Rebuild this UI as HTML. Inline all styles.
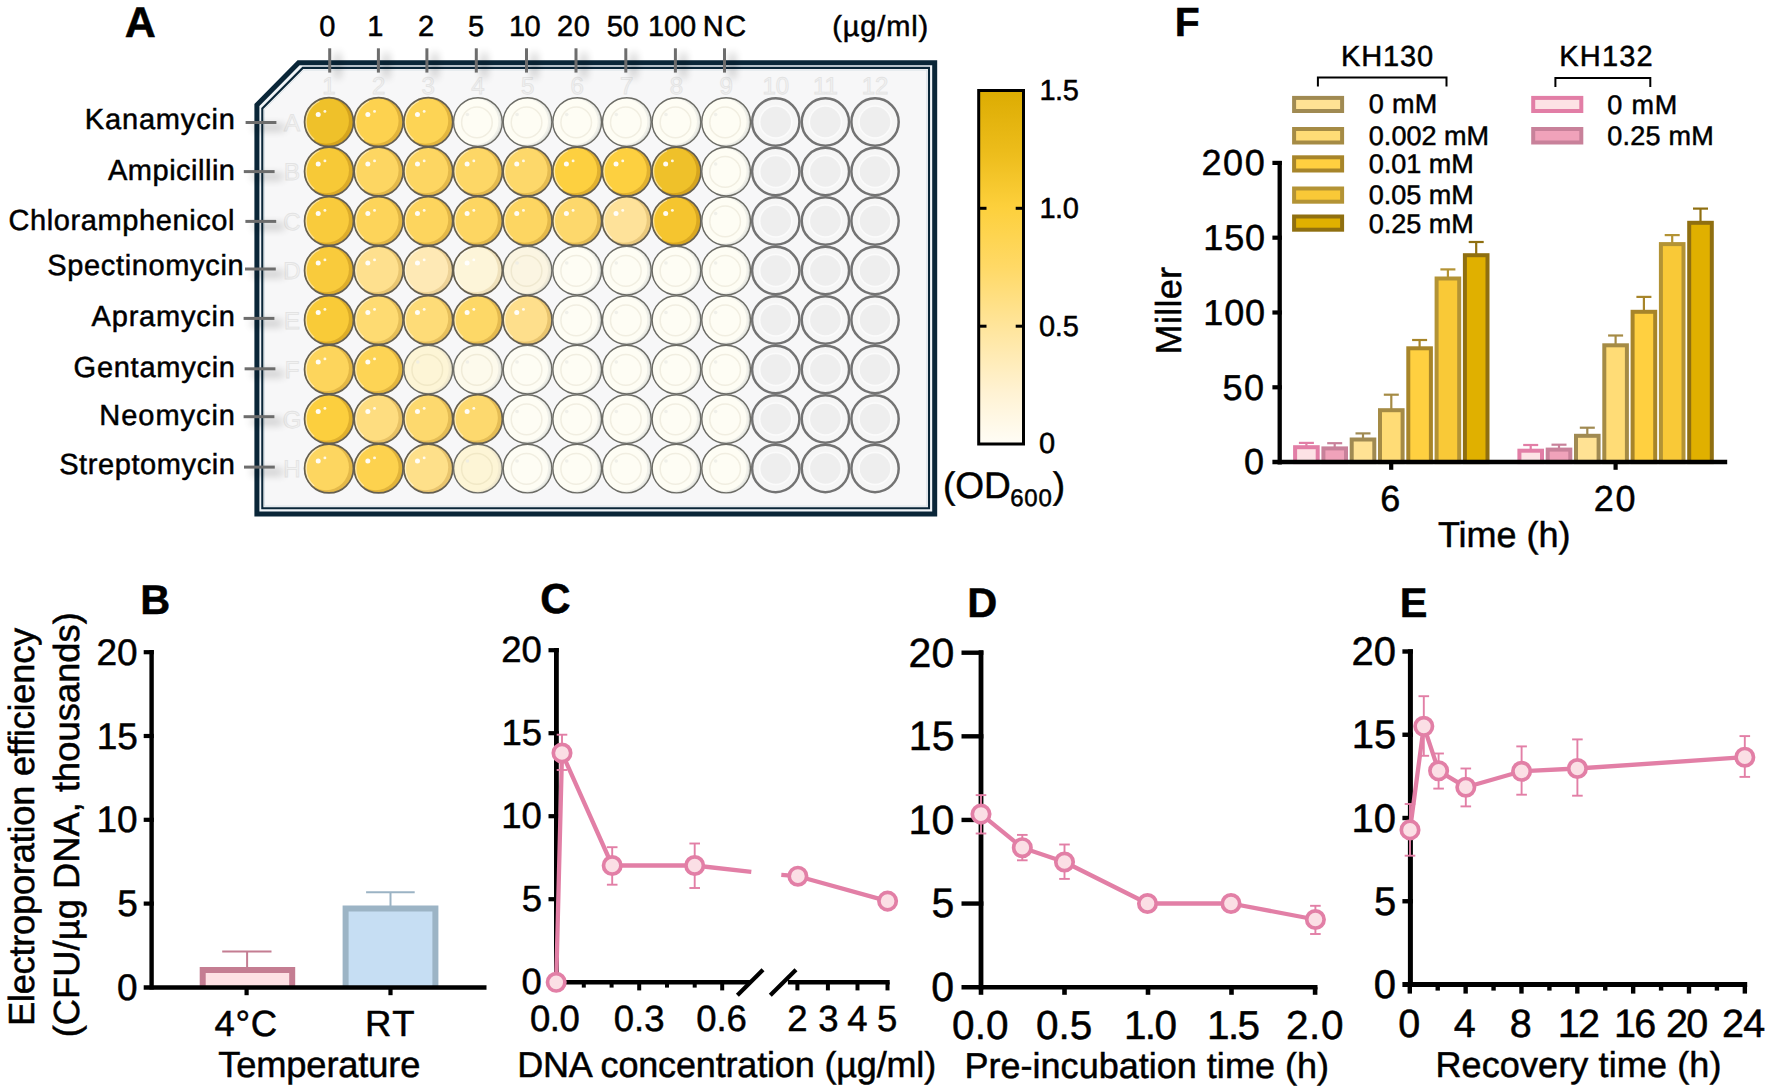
<!DOCTYPE html>
<html lang="en"><head><meta charset="utf-8"><title>Figure</title>
<style>
html,body{margin:0;padding:0;background:#fff;}
body{width:1772px;height:1092px;overflow:hidden;}
svg{display:block;font-family:"Liberation Sans",Arial,Helvetica,sans-serif;}
svg text{font-kerning:normal;text-rendering:geometricPrecision;}
svg text.k{stroke:#000;stroke-width:.5px;}
</style></head><body>
<svg width="1772" height="1092" viewBox="0 0 1772 1092">
<defs>
<filter id="sh" x="-400%" y="-100%" width="900%" height="300%"><feGaussianBlur in="SourceAlpha" stdDeviation="4.2"/><feOffset dx="8" dy="5"/><feComponentTransfer><feFuncA type="linear" slope="0.40"/></feComponentTransfer></filter>
<linearGradient id="cb" x1="0" y1="0" x2="0" y2="1">
<stop offset="0" stop-color="#dcac02"/><stop offset="0.18" stop-color="#edbd1c"/><stop offset="0.33" stop-color="#fdd03c"/><stop offset="0.5" stop-color="#ffd966"/><stop offset="0.67" stop-color="#ffe59c"/><stop offset="0.85" stop-color="#fff2d2"/><stop offset="1" stop-color="#fffdf6"/>
</linearGradient>
<clipPath id="wc"><circle cx="0" cy="0" r="24.25"/></clipPath>
</defs>
<rect width="1772" height="1092" fill="#fff"/>
<text class="k" x="124.80" y="36.60" font-size="43" font-weight="700" fill="#000">A</text>
<text class="k" x="319.30" y="36.30" font-size="29" fill="#000">0</text>
<text class="k" x="367.15" y="36.30" font-size="29" fill="#000">1</text>
<text class="k" x="417.90" y="36.30" font-size="29" fill="#000">2</text>
<text class="k" x="468.05" y="36.30" font-size="29" fill="#000">5</text>
<text class="k" x="508.95" y="36.30" font-size="29" letter-spacing="-0.500" fill="#000">10</text>
<text class="k" x="556.90" y="36.30" font-size="29" letter-spacing="0.750" fill="#000">20</text>
<text class="k" x="606.75" y="36.30" font-size="29" letter-spacing="-0.200" fill="#000">50</text>
<text class="k" x="647.95" y="36.30" font-size="29" letter-spacing="-0.150" fill="#000">100</text>
<text class="k" x="702.65" y="36.30" font-size="29" letter-spacing="1.600" fill="#000">NC</text>
<text class="k" x="832.25" y="36.30" font-size="29" letter-spacing="0.850" fill="#000">(µg/ml)</text>
<text class="k" x="84.75" y="128.90" font-size="29" letter-spacing="0.844" fill="#000">Kanamycin</text>
<text class="k" x="108.00" y="180.20" font-size="29" letter-spacing="0.500" fill="#000">Ampicillin</text>
<text class="k" x="8.50" y="229.60" font-size="29" letter-spacing="0.596" fill="#000">Chloramphenicol</text>
<text class="k" x="47.25" y="275.40" font-size="29" letter-spacing="0.650" fill="#000">Spectinomycin</text>
<text class="k" x="91.60" y="325.70" font-size="29" letter-spacing="0.800" fill="#000">Apramycin</text>
<text class="k" x="73.60" y="377.00" font-size="29" letter-spacing="0.739" fill="#000">Gentamycin</text>
<text class="k" x="99.35" y="424.60" font-size="29" letter-spacing="0.950" fill="#000">Neomycin</text>
<text class="k" x="59.15" y="474.10" font-size="29" letter-spacing="0.600" fill="#000">Streptomycin</text>
<polygon points="256.9,105.0 298.6,62.8 934.7,62.8 934.7,513.9 256.9,513.9" fill="#f1f5f8" stroke="#0a2638" stroke-width="5" stroke-linejoin="miter"/>
<polygon points="262.3,108.4 302.8,67.9 929.0,67.9 929.0,508.3 262.3,508.3" fill="#f7f7f8" stroke="#0a2638" stroke-width="2.1" stroke-linejoin="miter"/>
<polygon points="264.5,109.3 303.7,70.1 926.8,70.1 926.8,506.1 264.5,506.1" fill="none" stroke="#d3dde3" stroke-width="0.8" stroke-linejoin="miter"/>
<text x="329.0" y="94.3" font-size="24" text-anchor="middle" fill="#f2f2f2" stroke="#e3e3e3" stroke-width="0.8">1</text>
<text x="378.6" y="94.3" font-size="24" text-anchor="middle" fill="#f2f2f2" stroke="#e3e3e3" stroke-width="0.8">2</text>
<text x="428.3" y="94.3" font-size="24" text-anchor="middle" fill="#f2f2f2" stroke="#e3e3e3" stroke-width="0.8">3</text>
<text x="477.9" y="94.3" font-size="24" text-anchor="middle" fill="#f2f2f2" stroke="#e3e3e3" stroke-width="0.8">4</text>
<text x="527.6" y="94.3" font-size="24" text-anchor="middle" fill="#f2f2f2" stroke="#e3e3e3" stroke-width="0.8">5</text>
<text x="577.2" y="94.3" font-size="24" text-anchor="middle" fill="#f2f2f2" stroke="#e3e3e3" stroke-width="0.8">6</text>
<text x="626.8" y="94.3" font-size="24" text-anchor="middle" fill="#f2f2f2" stroke="#e3e3e3" stroke-width="0.8">7</text>
<text x="676.5" y="94.3" font-size="24" text-anchor="middle" fill="#f2f2f2" stroke="#e3e3e3" stroke-width="0.8">8</text>
<text x="726.1" y="94.3" font-size="24" text-anchor="middle" fill="#f2f2f2" stroke="#e3e3e3" stroke-width="0.8">9</text>
<text x="775.8" y="94.3" font-size="24" text-anchor="middle" fill="#f2f2f2" stroke="#e3e3e3" stroke-width="0.8">10</text>
<text x="825.4" y="94.3" font-size="24" text-anchor="middle" fill="#f2f2f2" stroke="#e3e3e3" stroke-width="0.8">11</text>
<text x="875.0" y="94.3" font-size="24" text-anchor="middle" fill="#f2f2f2" stroke="#e3e3e3" stroke-width="0.8">12</text>
<text x="292" y="130.6" font-size="24" text-anchor="middle" fill="#f2f2f2" stroke="#e3e3e3" stroke-width="0.8">A</text>
<text x="292" y="180.1" font-size="24" text-anchor="middle" fill="#f2f2f2" stroke="#e3e3e3" stroke-width="0.8">B</text>
<text x="292" y="229.6" font-size="24" text-anchor="middle" fill="#f2f2f2" stroke="#e3e3e3" stroke-width="0.8">C</text>
<text x="292" y="279.1" font-size="24" text-anchor="middle" fill="#f2f2f2" stroke="#e3e3e3" stroke-width="0.8">D</text>
<text x="292" y="328.6" font-size="24" text-anchor="middle" fill="#f2f2f2" stroke="#e3e3e3" stroke-width="0.8">E</text>
<text x="292" y="378.1" font-size="24" text-anchor="middle" fill="#f2f2f2" stroke="#e3e3e3" stroke-width="0.8">F</text>
<text x="292" y="427.6" font-size="24" text-anchor="middle" fill="#f2f2f2" stroke="#e3e3e3" stroke-width="0.8">G</text>
<text x="292" y="477.1" font-size="24" text-anchor="middle" fill="#f2f2f2" stroke="#e3e3e3" stroke-width="0.8">H</text>
<g transform="translate(329.00,122.00)"><circle r="24.45" fill="#d5a41e"/><g clip-path="url(#wc)"><circle cx="-3.0" cy="-1.3" r="22.95" fill="#efc12a"/></g><circle r="23.05" fill="none" stroke="#f7e094" stroke-width="1.6" stroke-dasharray="46 200" stroke-dashoffset="-52"/><circle r="24.45" fill="none" stroke="#655f50" stroke-width="1.7"/><circle cx="-10.8" cy="-7.4" r="2.5" fill="#fff" opacity="0.95"/><circle cx="-4.1" cy="-10.6" r="1.45" fill="#fff" opacity="0.85"/></g>
<g transform="translate(378.64,122.00)"><circle r="24.45" fill="#e2b43b"/><g clip-path="url(#wc)"><circle cx="-3.0" cy="-1.3" r="22.95" fill="#fdd24f"/></g><circle r="23.05" fill="none" stroke="#fee8a7" stroke-width="1.6" stroke-dasharray="46 200" stroke-dashoffset="-52"/><circle r="24.45" fill="none" stroke="#655f50" stroke-width="1.7"/><circle cx="-10.8" cy="-7.4" r="2.5" fill="#fff" opacity="0.95"/><circle cx="-4.1" cy="-10.6" r="1.45" fill="#fff" opacity="0.85"/></g>
<g transform="translate(428.28,122.00)"><circle r="24.45" fill="#e3b63f"/><g clip-path="url(#wc)"><circle cx="-3.0" cy="-1.3" r="22.95" fill="#fdd455"/></g><circle r="23.05" fill="none" stroke="#feeaaa" stroke-width="1.6" stroke-dasharray="46 200" stroke-dashoffset="-52"/><circle r="24.45" fill="none" stroke="#655f50" stroke-width="1.7"/><circle cx="-10.8" cy="-7.4" r="2.5" fill="#fff" opacity="0.95"/><circle cx="-4.1" cy="-10.6" r="1.45" fill="#fff" opacity="0.85"/></g>
<g transform="translate(477.92,122.00)"><circle r="24.45" fill="#dfe1dc"/><g clip-path="url(#wc)"><circle cx="-1.4" cy="-0.3" r="23.85" fill="#f0f0e9"/><circle cx="-2.6" cy="-0.5" r="23.05" fill="#fefdf4"/></g><circle cx="-1" cy="0.4" r="15.3" fill="none" stroke="#f1eee1" stroke-width="1.5"/><circle cx="-10.5" cy="-7.5" r="1.8" fill="#ebebe6" opacity="0.75"/><circle r="24.35" fill="none" stroke="#6c6c66" stroke-width="1.45"/></g>
<g transform="translate(527.56,122.00)"><circle r="24.45" fill="#dfe1dc"/><g clip-path="url(#wc)"><circle cx="-1.4" cy="-0.3" r="23.85" fill="#f0f0e9"/><circle cx="-2.6" cy="-0.5" r="23.05" fill="#fefdf4"/></g><circle cx="-1" cy="0.4" r="15.3" fill="none" stroke="#f1eee1" stroke-width="1.5"/><circle cx="-10.5" cy="-7.5" r="1.8" fill="#ebebe6" opacity="0.75"/><circle r="24.35" fill="none" stroke="#6c6c66" stroke-width="1.45"/></g>
<g transform="translate(577.20,122.00)"><circle r="24.45" fill="#dfe1dc"/><g clip-path="url(#wc)"><circle cx="-1.4" cy="-0.3" r="23.85" fill="#f0f0e9"/><circle cx="-2.6" cy="-0.5" r="23.05" fill="#fefdf4"/></g><circle cx="-1" cy="0.4" r="15.3" fill="none" stroke="#f1eee1" stroke-width="1.5"/><circle cx="-10.5" cy="-7.5" r="1.8" fill="#ebebe6" opacity="0.75"/><circle r="24.35" fill="none" stroke="#6c6c66" stroke-width="1.45"/></g>
<g transform="translate(626.84,122.00)"><circle r="24.45" fill="#dfe1dc"/><g clip-path="url(#wc)"><circle cx="-1.4" cy="-0.3" r="23.85" fill="#f0f0e9"/><circle cx="-2.6" cy="-0.5" r="23.05" fill="#fefdf4"/></g><circle cx="-1" cy="0.4" r="15.3" fill="none" stroke="#f1eee1" stroke-width="1.5"/><circle cx="-10.5" cy="-7.5" r="1.8" fill="#ebebe6" opacity="0.75"/><circle r="24.35" fill="none" stroke="#6c6c66" stroke-width="1.45"/></g>
<g transform="translate(676.48,122.00)"><circle r="24.45" fill="#dfe1dc"/><g clip-path="url(#wc)"><circle cx="-1.4" cy="-0.3" r="23.85" fill="#f0f0e9"/><circle cx="-2.6" cy="-0.5" r="23.05" fill="#fefdf4"/></g><circle cx="-1" cy="0.4" r="15.3" fill="none" stroke="#f1eee1" stroke-width="1.5"/><circle cx="-10.5" cy="-7.5" r="1.8" fill="#ebebe6" opacity="0.75"/><circle r="24.35" fill="none" stroke="#6c6c66" stroke-width="1.45"/></g>
<g transform="translate(726.12,122.00)"><circle r="24.45" fill="#dfe1dc"/><g clip-path="url(#wc)"><circle cx="-1.4" cy="-0.3" r="23.85" fill="#f0f0e9"/><circle cx="-2.6" cy="-0.5" r="23.05" fill="#fefdf4"/></g><circle cx="-1" cy="0.4" r="15.3" fill="none" stroke="#f1eee1" stroke-width="1.5"/><circle cx="-10.5" cy="-7.5" r="1.8" fill="#ebebe6" opacity="0.75"/><circle r="24.35" fill="none" stroke="#6c6c66" stroke-width="1.45"/></g>
<g transform="translate(775.76,122.00)"><circle r="23.65" fill="#f6f6f6" stroke="#737373" stroke-width="2.5"/><circle r="16.8" fill="#fbfbfb"/><circle r="15.3" fill="#eeeeee"/></g>
<g transform="translate(825.40,122.00)"><circle r="23.65" fill="#f6f6f6" stroke="#737373" stroke-width="2.5"/><circle r="16.8" fill="#fbfbfb"/><circle r="15.3" fill="#eeeeee"/></g>
<g transform="translate(875.04,122.00)"><circle r="23.65" fill="#f6f6f6" stroke="#737373" stroke-width="2.5"/><circle r="16.8" fill="#fbfbfb"/><circle r="15.3" fill="#eeeeee"/></g>
<g transform="translate(329.00,171.50)"><circle r="24.45" fill="#dcab28"/><g clip-path="url(#wc)"><circle cx="-3.0" cy="-1.3" r="22.95" fill="#f7c937"/></g><circle r="23.05" fill="none" stroke="#fbe49b" stroke-width="1.6" stroke-dasharray="46 200" stroke-dashoffset="-52"/><circle r="24.45" fill="none" stroke="#655f50" stroke-width="1.7"/><circle cx="-10.8" cy="-7.4" r="2.5" fill="#fff" opacity="0.95"/><circle cx="-4.1" cy="-10.6" r="1.45" fill="#fff" opacity="0.85"/></g>
<g transform="translate(378.64,171.50)"><circle r="24.45" fill="#e4b94a"/><g clip-path="url(#wc)"><circle cx="-3.0" cy="-1.3" r="22.95" fill="#fdd662"/></g><circle r="23.05" fill="none" stroke="#feeab0" stroke-width="1.6" stroke-dasharray="46 200" stroke-dashoffset="-52"/><circle r="24.45" fill="none" stroke="#655f50" stroke-width="1.7"/><circle cx="-10.8" cy="-7.4" r="2.5" fill="#fff" opacity="0.95"/><circle cx="-4.1" cy="-10.6" r="1.45" fill="#fff" opacity="0.85"/></g>
<g transform="translate(428.28,171.50)"><circle r="24.45" fill="#e4b94a"/><g clip-path="url(#wc)"><circle cx="-3.0" cy="-1.3" r="22.95" fill="#fdd662"/></g><circle r="23.05" fill="none" stroke="#feeab0" stroke-width="1.6" stroke-dasharray="46 200" stroke-dashoffset="-52"/><circle r="24.45" fill="none" stroke="#655f50" stroke-width="1.7"/><circle cx="-10.8" cy="-7.4" r="2.5" fill="#fff" opacity="0.95"/><circle cx="-4.1" cy="-10.6" r="1.45" fill="#fff" opacity="0.85"/></g>
<g transform="translate(477.92,171.50)"><circle r="24.45" fill="#e4ba4e"/><g clip-path="url(#wc)"><circle cx="-3.0" cy="-1.3" r="22.95" fill="#fdd766"/></g><circle r="23.05" fill="none" stroke="#feebb2" stroke-width="1.6" stroke-dasharray="46 200" stroke-dashoffset="-52"/><circle r="24.45" fill="none" stroke="#655f50" stroke-width="1.7"/><circle cx="-10.8" cy="-7.4" r="2.5" fill="#fff" opacity="0.95"/><circle cx="-4.1" cy="-10.6" r="1.45" fill="#fff" opacity="0.85"/></g>
<g transform="translate(527.56,171.50)"><circle r="24.45" fill="#e5bc51"/><g clip-path="url(#wc)"><circle cx="-3.0" cy="-1.3" r="22.95" fill="#fdd86a"/></g><circle r="23.05" fill="none" stroke="#feecb4" stroke-width="1.6" stroke-dasharray="46 200" stroke-dashoffset="-52"/><circle r="24.45" fill="none" stroke="#655f50" stroke-width="1.7"/><circle cx="-10.8" cy="-7.4" r="2.5" fill="#fff" opacity="0.95"/><circle cx="-4.1" cy="-10.6" r="1.45" fill="#fff" opacity="0.85"/></g>
<g transform="translate(577.20,171.50)"><circle r="24.45" fill="#e1b12f"/><g clip-path="url(#wc)"><circle cx="-3.0" cy="-1.3" r="22.95" fill="#fdd040"/></g><circle r="23.05" fill="none" stroke="#fee8a0" stroke-width="1.6" stroke-dasharray="46 200" stroke-dashoffset="-52"/><circle r="24.45" fill="none" stroke="#655f50" stroke-width="1.7"/><circle cx="-10.8" cy="-7.4" r="2.5" fill="#fff" opacity="0.95"/><circle cx="-4.1" cy="-10.6" r="1.45" fill="#fff" opacity="0.85"/></g>
<g transform="translate(626.84,171.50)"><circle r="24.45" fill="#e1b12f"/><g clip-path="url(#wc)"><circle cx="-3.0" cy="-1.3" r="22.95" fill="#fdd040"/></g><circle r="23.05" fill="none" stroke="#fee8a0" stroke-width="1.6" stroke-dasharray="46 200" stroke-dashoffset="-52"/><circle r="24.45" fill="none" stroke="#655f50" stroke-width="1.7"/><circle cx="-10.8" cy="-7.4" r="2.5" fill="#fff" opacity="0.95"/><circle cx="-4.1" cy="-10.6" r="1.45" fill="#fff" opacity="0.85"/></g>
<g transform="translate(676.48,171.50)"><circle r="24.45" fill="#d5a41e"/><g clip-path="url(#wc)"><circle cx="-3.0" cy="-1.3" r="22.95" fill="#efc12a"/></g><circle r="23.05" fill="none" stroke="#f7e094" stroke-width="1.6" stroke-dasharray="46 200" stroke-dashoffset="-52"/><circle r="24.45" fill="none" stroke="#655f50" stroke-width="1.7"/><circle cx="-10.8" cy="-7.4" r="2.5" fill="#fff" opacity="0.95"/><circle cx="-4.1" cy="-10.6" r="1.45" fill="#fff" opacity="0.85"/></g>
<g transform="translate(726.12,171.50)"><circle r="24.45" fill="#dfe1dc"/><g clip-path="url(#wc)"><circle cx="-1.4" cy="-0.3" r="23.85" fill="#f0f0e9"/><circle cx="-2.6" cy="-0.5" r="23.05" fill="#fefdf4"/></g><circle cx="-1" cy="0.4" r="15.3" fill="none" stroke="#f1eee1" stroke-width="1.5"/><circle cx="-10.5" cy="-7.5" r="1.8" fill="#ebebe6" opacity="0.75"/><circle r="24.35" fill="none" stroke="#6c6c66" stroke-width="1.45"/></g>
<g transform="translate(775.76,171.50)"><circle r="23.65" fill="#f6f6f6" stroke="#737373" stroke-width="2.5"/><circle r="16.8" fill="#fbfbfb"/><circle r="15.3" fill="#eeeeee"/></g>
<g transform="translate(825.40,171.50)"><circle r="23.65" fill="#f6f6f6" stroke="#737373" stroke-width="2.5"/><circle r="16.8" fill="#fbfbfb"/><circle r="15.3" fill="#eeeeee"/></g>
<g transform="translate(875.04,171.50)"><circle r="23.65" fill="#f6f6f6" stroke="#737373" stroke-width="2.5"/><circle r="16.8" fill="#fbfbfb"/><circle r="15.3" fill="#eeeeee"/></g>
<g transform="translate(329.00,221.00)"><circle r="24.45" fill="#dead2b"/><g clip-path="url(#wc)"><circle cx="-3.0" cy="-1.3" r="22.95" fill="#f9cb3c"/></g><circle r="23.05" fill="none" stroke="#fce59e" stroke-width="1.6" stroke-dasharray="46 200" stroke-dashoffset="-52"/><circle r="24.45" fill="none" stroke="#655f50" stroke-width="1.7"/><circle cx="-10.8" cy="-7.4" r="2.5" fill="#fff" opacity="0.95"/><circle cx="-4.1" cy="-10.6" r="1.45" fill="#fff" opacity="0.85"/></g>
<g transform="translate(378.64,221.00)"><circle r="24.45" fill="#e3b744"/><g clip-path="url(#wc)"><circle cx="-3.0" cy="-1.3" r="22.95" fill="#fdd45a"/></g><circle r="23.05" fill="none" stroke="#feeaac" stroke-width="1.6" stroke-dasharray="46 200" stroke-dashoffset="-52"/><circle r="24.45" fill="none" stroke="#655f50" stroke-width="1.7"/><circle cx="-10.8" cy="-7.4" r="2.5" fill="#fff" opacity="0.95"/><circle cx="-4.1" cy="-10.6" r="1.45" fill="#fff" opacity="0.85"/></g>
<g transform="translate(428.28,221.00)"><circle r="24.45" fill="#e4b847"/><g clip-path="url(#wc)"><circle cx="-3.0" cy="-1.3" r="22.95" fill="#fdd55e"/></g><circle r="23.05" fill="none" stroke="#feeaae" stroke-width="1.6" stroke-dasharray="46 200" stroke-dashoffset="-52"/><circle r="24.45" fill="none" stroke="#655f50" stroke-width="1.7"/><circle cx="-10.8" cy="-7.4" r="2.5" fill="#fff" opacity="0.95"/><circle cx="-4.1" cy="-10.6" r="1.45" fill="#fff" opacity="0.85"/></g>
<g transform="translate(477.92,221.00)"><circle r="24.45" fill="#e4b94a"/><g clip-path="url(#wc)"><circle cx="-3.0" cy="-1.3" r="22.95" fill="#fdd662"/></g><circle r="23.05" fill="none" stroke="#feeab0" stroke-width="1.6" stroke-dasharray="46 200" stroke-dashoffset="-52"/><circle r="24.45" fill="none" stroke="#655f50" stroke-width="1.7"/><circle cx="-10.8" cy="-7.4" r="2.5" fill="#fff" opacity="0.95"/><circle cx="-4.1" cy="-10.6" r="1.45" fill="#fff" opacity="0.85"/></g>
<g transform="translate(527.56,221.00)"><circle r="24.45" fill="#e4b94a"/><g clip-path="url(#wc)"><circle cx="-3.0" cy="-1.3" r="22.95" fill="#fdd662"/></g><circle r="23.05" fill="none" stroke="#feeab0" stroke-width="1.6" stroke-dasharray="46 200" stroke-dashoffset="-52"/><circle r="24.45" fill="none" stroke="#655f50" stroke-width="1.7"/><circle cx="-10.8" cy="-7.4" r="2.5" fill="#fff" opacity="0.95"/><circle cx="-4.1" cy="-10.6" r="1.45" fill="#fff" opacity="0.85"/></g>
<g transform="translate(577.20,221.00)"><circle r="24.45" fill="#e5bc53"/><g clip-path="url(#wc)"><circle cx="-3.0" cy="-1.3" r="22.95" fill="#fdd86c"/></g><circle r="23.05" fill="none" stroke="#feecb6" stroke-width="1.6" stroke-dasharray="46 200" stroke-dashoffset="-52"/><circle r="24.45" fill="none" stroke="#655f50" stroke-width="1.7"/><circle cx="-10.8" cy="-7.4" r="2.5" fill="#fff" opacity="0.95"/><circle cx="-4.1" cy="-10.6" r="1.45" fill="#fff" opacity="0.85"/></g>
<g transform="translate(626.84,221.00)"><circle r="24.45" fill="#eac97d"/><g clip-path="url(#wc)"><circle cx="-3.0" cy="-1.3" r="22.95" fill="#fee29a"/></g><circle r="23.05" fill="none" stroke="#fef0cc" stroke-width="1.6" stroke-dasharray="46 200" stroke-dashoffset="-52"/><circle r="24.45" fill="none" stroke="#655f50" stroke-width="1.7"/><circle cx="-10.8" cy="-7.4" r="2.5" fill="#fff" opacity="0.95"/><circle cx="-4.1" cy="-10.6" r="1.45" fill="#fff" opacity="0.85"/></g>
<g transform="translate(676.48,221.00)"><circle r="24.45" fill="#daa821"/><g clip-path="url(#wc)"><circle cx="-3.0" cy="-1.3" r="22.95" fill="#f5c52f"/></g><circle r="23.05" fill="none" stroke="#fae297" stroke-width="1.6" stroke-dasharray="46 200" stroke-dashoffset="-52"/><circle r="24.45" fill="none" stroke="#655f50" stroke-width="1.7"/><circle cx="-10.8" cy="-7.4" r="2.5" fill="#fff" opacity="0.95"/><circle cx="-4.1" cy="-10.6" r="1.45" fill="#fff" opacity="0.85"/></g>
<g transform="translate(726.12,221.00)"><circle r="24.45" fill="#dfe1dc"/><g clip-path="url(#wc)"><circle cx="-1.4" cy="-0.3" r="23.85" fill="#f0f0e9"/><circle cx="-2.6" cy="-0.5" r="23.05" fill="#fefdf4"/></g><circle cx="-1" cy="0.4" r="15.3" fill="none" stroke="#f1eee1" stroke-width="1.5"/><circle cx="-10.5" cy="-7.5" r="1.8" fill="#ebebe6" opacity="0.75"/><circle r="24.35" fill="none" stroke="#6c6c66" stroke-width="1.45"/></g>
<g transform="translate(775.76,221.00)"><circle r="23.65" fill="#f6f6f6" stroke="#737373" stroke-width="2.5"/><circle r="16.8" fill="#fbfbfb"/><circle r="15.3" fill="#eeeeee"/></g>
<g transform="translate(825.40,221.00)"><circle r="23.65" fill="#f6f6f6" stroke="#737373" stroke-width="2.5"/><circle r="16.8" fill="#fbfbfb"/><circle r="15.3" fill="#eeeeee"/></g>
<g transform="translate(875.04,221.00)"><circle r="23.65" fill="#f6f6f6" stroke="#737373" stroke-width="2.5"/><circle r="16.8" fill="#fbfbfb"/><circle r="15.3" fill="#eeeeee"/></g>
<g transform="translate(329.00,270.50)"><circle r="24.45" fill="#dead2b"/><g clip-path="url(#wc)"><circle cx="-3.0" cy="-1.3" r="22.95" fill="#f9cb3c"/></g><circle r="23.05" fill="none" stroke="#fce59e" stroke-width="1.6" stroke-dasharray="46 200" stroke-dashoffset="-52"/><circle r="24.45" fill="none" stroke="#655f50" stroke-width="1.7"/><circle cx="-10.8" cy="-7.4" r="2.5" fill="#fff" opacity="0.95"/><circle cx="-4.1" cy="-10.6" r="1.45" fill="#fff" opacity="0.85"/></g>
<g transform="translate(378.64,270.50)"><circle r="24.45" fill="#e9c671"/><g clip-path="url(#wc)"><circle cx="-3.0" cy="-1.3" r="22.95" fill="#fee08e"/></g><circle r="23.05" fill="none" stroke="#fef0c6" stroke-width="1.6" stroke-dasharray="46 200" stroke-dashoffset="-52"/><circle r="24.45" fill="none" stroke="#655f50" stroke-width="1.7"/><circle cx="-10.8" cy="-7.4" r="2.5" fill="#fff" opacity="0.95"/><circle cx="-4.1" cy="-10.6" r="1.45" fill="#fff" opacity="0.85"/></g>
<g transform="translate(428.28,270.50)"><circle r="24.45" fill="#edd297"/><g clip-path="url(#wc)"><circle cx="-3.0" cy="-1.3" r="22.95" fill="#fee9b5"/></g><circle r="23.05" fill="none" stroke="#fef4da" stroke-width="1.6" stroke-dasharray="46 200" stroke-dashoffset="-52"/><circle r="24.45" fill="none" stroke="#655f50" stroke-width="1.7"/><circle cx="-10.8" cy="-7.4" r="2.5" fill="#fff" opacity="0.95"/><circle cx="-4.1" cy="-10.6" r="1.45" fill="#fff" opacity="0.85"/></g>
<g transform="translate(477.92,270.50)"><circle r="24.45" fill="#efe1bc"/><g clip-path="url(#wc)"><circle cx="-3.0" cy="-1.3" r="22.95" fill="#fdf5d9"/></g><circle r="23.05" fill="none" stroke="#fefaec" stroke-width="1.6" stroke-dasharray="46 200" stroke-dashoffset="-52"/><circle r="24.45" fill="none" stroke="#655f50" stroke-width="1.7"/><circle cx="-10.8" cy="-7.4" r="2.5" fill="#fff" opacity="0.95"/><circle cx="-4.1" cy="-10.6" r="1.45" fill="#fff" opacity="0.85"/></g>
<g transform="translate(527.56,270.50)"><circle r="24.45" fill="#e2dfcf"/><g clip-path="url(#wc)"><circle cx="-1.4" cy="-0.3" r="23.85" fill="#f0ebd9"/><circle cx="-2.6" cy="-0.5" r="23.05" fill="#fbf5e2"/></g><circle cx="-1" cy="0.4" r="15.3" fill="none" stroke="#efe8d0" stroke-width="1.5"/><circle cx="-10.5" cy="-7.5" r="1.8" fill="#ebebe6" opacity="0.75"/><circle r="24.35" fill="none" stroke="#6c6c66" stroke-width="1.45"/></g>
<g transform="translate(577.20,270.50)"><circle r="24.45" fill="#dfe1dc"/><g clip-path="url(#wc)"><circle cx="-1.4" cy="-0.3" r="23.85" fill="#f0f0e9"/><circle cx="-2.6" cy="-0.5" r="23.05" fill="#fefdf4"/></g><circle cx="-1" cy="0.4" r="15.3" fill="none" stroke="#f1eee1" stroke-width="1.5"/><circle cx="-10.5" cy="-7.5" r="1.8" fill="#ebebe6" opacity="0.75"/><circle r="24.35" fill="none" stroke="#6c6c66" stroke-width="1.45"/></g>
<g transform="translate(626.84,270.50)"><circle r="24.45" fill="#dfe1dc"/><g clip-path="url(#wc)"><circle cx="-1.4" cy="-0.3" r="23.85" fill="#f0f0e9"/><circle cx="-2.6" cy="-0.5" r="23.05" fill="#fefdf4"/></g><circle cx="-1" cy="0.4" r="15.3" fill="none" stroke="#f1eee1" stroke-width="1.5"/><circle cx="-10.5" cy="-7.5" r="1.8" fill="#ebebe6" opacity="0.75"/><circle r="24.35" fill="none" stroke="#6c6c66" stroke-width="1.45"/></g>
<g transform="translate(676.48,270.50)"><circle r="24.45" fill="#dfe1dc"/><g clip-path="url(#wc)"><circle cx="-1.4" cy="-0.3" r="23.85" fill="#f0f0e9"/><circle cx="-2.6" cy="-0.5" r="23.05" fill="#fefdf4"/></g><circle cx="-1" cy="0.4" r="15.3" fill="none" stroke="#f1eee1" stroke-width="1.5"/><circle cx="-10.5" cy="-7.5" r="1.8" fill="#ebebe6" opacity="0.75"/><circle r="24.35" fill="none" stroke="#6c6c66" stroke-width="1.45"/></g>
<g transform="translate(726.12,270.50)"><circle r="24.45" fill="#dfe1dc"/><g clip-path="url(#wc)"><circle cx="-1.4" cy="-0.3" r="23.85" fill="#f0f0e9"/><circle cx="-2.6" cy="-0.5" r="23.05" fill="#fefdf4"/></g><circle cx="-1" cy="0.4" r="15.3" fill="none" stroke="#f1eee1" stroke-width="1.5"/><circle cx="-10.5" cy="-7.5" r="1.8" fill="#ebebe6" opacity="0.75"/><circle r="24.35" fill="none" stroke="#6c6c66" stroke-width="1.45"/></g>
<g transform="translate(775.76,270.50)"><circle r="23.65" fill="#f6f6f6" stroke="#737373" stroke-width="2.5"/><circle r="16.8" fill="#fbfbfb"/><circle r="15.3" fill="#eeeeee"/></g>
<g transform="translate(825.40,270.50)"><circle r="23.65" fill="#f6f6f6" stroke="#737373" stroke-width="2.5"/><circle r="16.8" fill="#fbfbfb"/><circle r="15.3" fill="#eeeeee"/></g>
<g transform="translate(875.04,270.50)"><circle r="23.65" fill="#f6f6f6" stroke="#737373" stroke-width="2.5"/><circle r="16.8" fill="#fbfbfb"/><circle r="15.3" fill="#eeeeee"/></g>
<g transform="translate(329.00,320.00)"><circle r="24.45" fill="#ddad28"/><g clip-path="url(#wc)"><circle cx="-3.0" cy="-1.3" r="22.95" fill="#f9cb38"/></g><circle r="23.05" fill="none" stroke="#fce59c" stroke-width="1.6" stroke-dasharray="46 200" stroke-dashoffset="-52"/><circle r="24.45" fill="none" stroke="#655f50" stroke-width="1.7"/><circle cx="-10.8" cy="-7.4" r="2.5" fill="#fff" opacity="0.95"/><circle cx="-4.1" cy="-10.6" r="1.45" fill="#fff" opacity="0.85"/></g>
<g transform="translate(378.64,320.00)"><circle r="24.45" fill="#e6bf58"/><g clip-path="url(#wc)"><circle cx="-3.0" cy="-1.3" r="22.95" fill="#fedb72"/></g><circle r="23.05" fill="none" stroke="#feedb8" stroke-width="1.6" stroke-dasharray="46 200" stroke-dashoffset="-52"/><circle r="24.45" fill="none" stroke="#655f50" stroke-width="1.7"/><circle cx="-10.8" cy="-7.4" r="2.5" fill="#fff" opacity="0.95"/><circle cx="-4.1" cy="-10.6" r="1.45" fill="#fff" opacity="0.85"/></g>
<g transform="translate(428.28,320.00)"><circle r="24.45" fill="#e7c05d"/><g clip-path="url(#wc)"><circle cx="-3.0" cy="-1.3" r="22.95" fill="#fedc78"/></g><circle r="23.05" fill="none" stroke="#feeebc" stroke-width="1.6" stroke-dasharray="46 200" stroke-dashoffset="-52"/><circle r="24.45" fill="none" stroke="#655f50" stroke-width="1.7"/><circle cx="-10.8" cy="-7.4" r="2.5" fill="#fff" opacity="0.95"/><circle cx="-4.1" cy="-10.6" r="1.45" fill="#fff" opacity="0.85"/></g>
<g transform="translate(477.92,320.00)"><circle r="24.45" fill="#e5bb4f"/><g clip-path="url(#wc)"><circle cx="-3.0" cy="-1.3" r="22.95" fill="#fdd867"/></g><circle r="23.05" fill="none" stroke="#feecb3" stroke-width="1.6" stroke-dasharray="46 200" stroke-dashoffset="-52"/><circle r="24.45" fill="none" stroke="#655f50" stroke-width="1.7"/><circle cx="-10.8" cy="-7.4" r="2.5" fill="#fff" opacity="0.95"/><circle cx="-4.1" cy="-10.6" r="1.45" fill="#fff" opacity="0.85"/></g>
<g transform="translate(527.56,320.00)"><circle r="24.45" fill="#e9c56f"/><g clip-path="url(#wc)"><circle cx="-3.0" cy="-1.3" r="22.95" fill="#fedf8c"/></g><circle r="23.05" fill="none" stroke="#feefc6" stroke-width="1.6" stroke-dasharray="46 200" stroke-dashoffset="-52"/><circle r="24.45" fill="none" stroke="#655f50" stroke-width="1.7"/><circle cx="-10.8" cy="-7.4" r="2.5" fill="#fff" opacity="0.95"/><circle cx="-4.1" cy="-10.6" r="1.45" fill="#fff" opacity="0.85"/></g>
<g transform="translate(577.20,320.00)"><circle r="24.45" fill="#dfe1dc"/><g clip-path="url(#wc)"><circle cx="-1.4" cy="-0.3" r="23.85" fill="#f0f0e9"/><circle cx="-2.6" cy="-0.5" r="23.05" fill="#fefdf4"/></g><circle cx="-1" cy="0.4" r="15.3" fill="none" stroke="#f1eee1" stroke-width="1.5"/><circle cx="-10.5" cy="-7.5" r="1.8" fill="#ebebe6" opacity="0.75"/><circle r="24.35" fill="none" stroke="#6c6c66" stroke-width="1.45"/></g>
<g transform="translate(626.84,320.00)"><circle r="24.45" fill="#dfe1dc"/><g clip-path="url(#wc)"><circle cx="-1.4" cy="-0.3" r="23.85" fill="#f0f0e9"/><circle cx="-2.6" cy="-0.5" r="23.05" fill="#fefdf4"/></g><circle cx="-1" cy="0.4" r="15.3" fill="none" stroke="#f1eee1" stroke-width="1.5"/><circle cx="-10.5" cy="-7.5" r="1.8" fill="#ebebe6" opacity="0.75"/><circle r="24.35" fill="none" stroke="#6c6c66" stroke-width="1.45"/></g>
<g transform="translate(676.48,320.00)"><circle r="24.45" fill="#dfe1dc"/><g clip-path="url(#wc)"><circle cx="-1.4" cy="-0.3" r="23.85" fill="#f0f0e9"/><circle cx="-2.6" cy="-0.5" r="23.05" fill="#fefdf4"/></g><circle cx="-1" cy="0.4" r="15.3" fill="none" stroke="#f1eee1" stroke-width="1.5"/><circle cx="-10.5" cy="-7.5" r="1.8" fill="#ebebe6" opacity="0.75"/><circle r="24.35" fill="none" stroke="#6c6c66" stroke-width="1.45"/></g>
<g transform="translate(726.12,320.00)"><circle r="24.45" fill="#dfe1dc"/><g clip-path="url(#wc)"><circle cx="-1.4" cy="-0.3" r="23.85" fill="#f0f0e9"/><circle cx="-2.6" cy="-0.5" r="23.05" fill="#fefdf4"/></g><circle cx="-1" cy="0.4" r="15.3" fill="none" stroke="#f1eee1" stroke-width="1.5"/><circle cx="-10.5" cy="-7.5" r="1.8" fill="#ebebe6" opacity="0.75"/><circle r="24.35" fill="none" stroke="#6c6c66" stroke-width="1.45"/></g>
<g transform="translate(775.76,320.00)"><circle r="23.65" fill="#f6f6f6" stroke="#737373" stroke-width="2.5"/><circle r="16.8" fill="#fbfbfb"/><circle r="15.3" fill="#eeeeee"/></g>
<g transform="translate(825.40,320.00)"><circle r="23.65" fill="#f6f6f6" stroke="#737373" stroke-width="2.5"/><circle r="16.8" fill="#fbfbfb"/><circle r="15.3" fill="#eeeeee"/></g>
<g transform="translate(875.04,320.00)"><circle r="23.65" fill="#f6f6f6" stroke="#737373" stroke-width="2.5"/><circle r="16.8" fill="#fbfbfb"/><circle r="15.3" fill="#eeeeee"/></g>
<g transform="translate(329.00,369.50)"><circle r="24.45" fill="#e4b845"/><g clip-path="url(#wc)"><circle cx="-3.0" cy="-1.3" r="22.95" fill="#fdd55c"/></g><circle r="23.05" fill="none" stroke="#feeaae" stroke-width="1.6" stroke-dasharray="46 200" stroke-dashoffset="-52"/><circle r="24.45" fill="none" stroke="#655f50" stroke-width="1.7"/><circle cx="-10.8" cy="-7.4" r="2.5" fill="#fff" opacity="0.95"/><circle cx="-4.1" cy="-10.6" r="1.45" fill="#fff" opacity="0.85"/></g>
<g transform="translate(378.64,369.50)"><circle r="24.45" fill="#e3b63f"/><g clip-path="url(#wc)"><circle cx="-3.0" cy="-1.3" r="22.95" fill="#fdd455"/></g><circle r="23.05" fill="none" stroke="#feeaaa" stroke-width="1.6" stroke-dasharray="46 200" stroke-dashoffset="-52"/><circle r="24.45" fill="none" stroke="#655f50" stroke-width="1.7"/><circle cx="-10.8" cy="-7.4" r="2.5" fill="#fff" opacity="0.95"/><circle cx="-4.1" cy="-10.6" r="1.45" fill="#fff" opacity="0.85"/></g>
<g transform="translate(428.28,369.50)"><circle r="24.45" fill="#e9e2c8"/><g clip-path="url(#wc)"><circle cx="-1.4" cy="-0.3" r="23.85" fill="#f4ecd0"/><circle cx="-2.6" cy="-0.5" r="23.05" fill="#fdf5d6"/></g><circle cx="-1" cy="0.4" r="15.3" fill="none" stroke="#f1e8c6" stroke-width="1.5"/><circle cx="-10.5" cy="-7.5" r="1.8" fill="#ebebe6" opacity="0.75"/><circle r="24.35" fill="none" stroke="#6c6c66" stroke-width="1.45"/></g>
<g transform="translate(477.92,369.50)"><circle r="24.45" fill="#dfe0d8"/><g clip-path="url(#wc)"><circle cx="-1.4" cy="-0.3" r="23.85" fill="#f0eee3"/><circle cx="-2.6" cy="-0.5" r="23.05" fill="#fdfaec"/></g><circle cx="-1" cy="0.4" r="15.3" fill="none" stroke="#f0ebd8" stroke-width="1.5"/><circle cx="-10.5" cy="-7.5" r="1.8" fill="#ebebe6" opacity="0.75"/><circle r="24.35" fill="none" stroke="#6c6c66" stroke-width="1.45"/></g>
<g transform="translate(527.56,369.50)"><circle r="24.45" fill="#dfe1dc"/><g clip-path="url(#wc)"><circle cx="-1.4" cy="-0.3" r="23.85" fill="#f0f0e9"/><circle cx="-2.6" cy="-0.5" r="23.05" fill="#fefdf4"/></g><circle cx="-1" cy="0.4" r="15.3" fill="none" stroke="#f1eee1" stroke-width="1.5"/><circle cx="-10.5" cy="-7.5" r="1.8" fill="#ebebe6" opacity="0.75"/><circle r="24.35" fill="none" stroke="#6c6c66" stroke-width="1.45"/></g>
<g transform="translate(577.20,369.50)"><circle r="24.45" fill="#dfe1dc"/><g clip-path="url(#wc)"><circle cx="-1.4" cy="-0.3" r="23.85" fill="#f0f0e9"/><circle cx="-2.6" cy="-0.5" r="23.05" fill="#fefdf4"/></g><circle cx="-1" cy="0.4" r="15.3" fill="none" stroke="#f1eee1" stroke-width="1.5"/><circle cx="-10.5" cy="-7.5" r="1.8" fill="#ebebe6" opacity="0.75"/><circle r="24.35" fill="none" stroke="#6c6c66" stroke-width="1.45"/></g>
<g transform="translate(626.84,369.50)"><circle r="24.45" fill="#dfe1dc"/><g clip-path="url(#wc)"><circle cx="-1.4" cy="-0.3" r="23.85" fill="#f0f0e9"/><circle cx="-2.6" cy="-0.5" r="23.05" fill="#fefdf4"/></g><circle cx="-1" cy="0.4" r="15.3" fill="none" stroke="#f1eee1" stroke-width="1.5"/><circle cx="-10.5" cy="-7.5" r="1.8" fill="#ebebe6" opacity="0.75"/><circle r="24.35" fill="none" stroke="#6c6c66" stroke-width="1.45"/></g>
<g transform="translate(676.48,369.50)"><circle r="24.45" fill="#dfe1dc"/><g clip-path="url(#wc)"><circle cx="-1.4" cy="-0.3" r="23.85" fill="#f0f0e9"/><circle cx="-2.6" cy="-0.5" r="23.05" fill="#fefdf4"/></g><circle cx="-1" cy="0.4" r="15.3" fill="none" stroke="#f1eee1" stroke-width="1.5"/><circle cx="-10.5" cy="-7.5" r="1.8" fill="#ebebe6" opacity="0.75"/><circle r="24.35" fill="none" stroke="#6c6c66" stroke-width="1.45"/></g>
<g transform="translate(726.12,369.50)"><circle r="24.45" fill="#dfe1dc"/><g clip-path="url(#wc)"><circle cx="-1.4" cy="-0.3" r="23.85" fill="#f0f0e9"/><circle cx="-2.6" cy="-0.5" r="23.05" fill="#fefdf4"/></g><circle cx="-1" cy="0.4" r="15.3" fill="none" stroke="#f1eee1" stroke-width="1.5"/><circle cx="-10.5" cy="-7.5" r="1.8" fill="#ebebe6" opacity="0.75"/><circle r="24.35" fill="none" stroke="#6c6c66" stroke-width="1.45"/></g>
<g transform="translate(775.76,369.50)"><circle r="23.65" fill="#f6f6f6" stroke="#737373" stroke-width="2.5"/><circle r="16.8" fill="#fbfbfb"/><circle r="15.3" fill="#eeeeee"/></g>
<g transform="translate(825.40,369.50)"><circle r="23.65" fill="#f6f6f6" stroke="#737373" stroke-width="2.5"/><circle r="16.8" fill="#fbfbfb"/><circle r="15.3" fill="#eeeeee"/></g>
<g transform="translate(875.04,369.50)"><circle r="23.65" fill="#f6f6f6" stroke="#737373" stroke-width="2.5"/><circle r="16.8" fill="#fbfbfb"/><circle r="15.3" fill="#eeeeee"/></g>
<g transform="translate(329.00,419.00)"><circle r="24.45" fill="#e0b02d"/><g clip-path="url(#wc)"><circle cx="-3.0" cy="-1.3" r="22.95" fill="#fccf3e"/></g><circle r="23.05" fill="none" stroke="#fee79e" stroke-width="1.6" stroke-dasharray="46 200" stroke-dashoffset="-52"/><circle r="24.45" fill="none" stroke="#655f50" stroke-width="1.7"/><circle cx="-10.8" cy="-7.4" r="2.5" fill="#fff" opacity="0.95"/><circle cx="-4.1" cy="-10.6" r="1.45" fill="#fff" opacity="0.85"/></g>
<g transform="translate(378.64,419.00)"><circle r="24.45" fill="#e8c265"/><g clip-path="url(#wc)"><circle cx="-3.0" cy="-1.3" r="22.95" fill="#fedd80"/></g><circle r="23.05" fill="none" stroke="#feeec0" stroke-width="1.6" stroke-dasharray="46 200" stroke-dashoffset="-52"/><circle r="24.45" fill="none" stroke="#655f50" stroke-width="1.7"/><circle cx="-10.8" cy="-7.4" r="2.5" fill="#fff" opacity="0.95"/><circle cx="-4.1" cy="-10.6" r="1.45" fill="#fff" opacity="0.85"/></g>
<g transform="translate(428.28,419.00)"><circle r="24.45" fill="#e5bd55"/><g clip-path="url(#wc)"><circle cx="-3.0" cy="-1.3" r="22.95" fill="#fdd96e"/></g><circle r="23.05" fill="none" stroke="#feecb6" stroke-width="1.6" stroke-dasharray="46 200" stroke-dashoffset="-52"/><circle r="24.45" fill="none" stroke="#655f50" stroke-width="1.7"/><circle cx="-10.8" cy="-7.4" r="2.5" fill="#fff" opacity="0.95"/><circle cx="-4.1" cy="-10.6" r="1.45" fill="#fff" opacity="0.85"/></g>
<g transform="translate(477.92,419.00)"><circle r="24.45" fill="#e5bd55"/><g clip-path="url(#wc)"><circle cx="-3.0" cy="-1.3" r="22.95" fill="#fdd96e"/></g><circle r="23.05" fill="none" stroke="#feecb6" stroke-width="1.6" stroke-dasharray="46 200" stroke-dashoffset="-52"/><circle r="24.45" fill="none" stroke="#655f50" stroke-width="1.7"/><circle cx="-10.8" cy="-7.4" r="2.5" fill="#fff" opacity="0.95"/><circle cx="-4.1" cy="-10.6" r="1.45" fill="#fff" opacity="0.85"/></g>
<g transform="translate(527.56,419.00)"><circle r="24.45" fill="#dfe1dc"/><g clip-path="url(#wc)"><circle cx="-1.4" cy="-0.3" r="23.85" fill="#f0f0e9"/><circle cx="-2.6" cy="-0.5" r="23.05" fill="#fefdf4"/></g><circle cx="-1" cy="0.4" r="15.3" fill="none" stroke="#f1eee1" stroke-width="1.5"/><circle cx="-10.5" cy="-7.5" r="1.8" fill="#ebebe6" opacity="0.75"/><circle r="24.35" fill="none" stroke="#6c6c66" stroke-width="1.45"/></g>
<g transform="translate(577.20,419.00)"><circle r="24.45" fill="#dfe1dc"/><g clip-path="url(#wc)"><circle cx="-1.4" cy="-0.3" r="23.85" fill="#f0f0e9"/><circle cx="-2.6" cy="-0.5" r="23.05" fill="#fefdf4"/></g><circle cx="-1" cy="0.4" r="15.3" fill="none" stroke="#f1eee1" stroke-width="1.5"/><circle cx="-10.5" cy="-7.5" r="1.8" fill="#ebebe6" opacity="0.75"/><circle r="24.35" fill="none" stroke="#6c6c66" stroke-width="1.45"/></g>
<g transform="translate(626.84,419.00)"><circle r="24.45" fill="#dfe1dc"/><g clip-path="url(#wc)"><circle cx="-1.4" cy="-0.3" r="23.85" fill="#f0f0e9"/><circle cx="-2.6" cy="-0.5" r="23.05" fill="#fefdf4"/></g><circle cx="-1" cy="0.4" r="15.3" fill="none" stroke="#f1eee1" stroke-width="1.5"/><circle cx="-10.5" cy="-7.5" r="1.8" fill="#ebebe6" opacity="0.75"/><circle r="24.35" fill="none" stroke="#6c6c66" stroke-width="1.45"/></g>
<g transform="translate(676.48,419.00)"><circle r="24.45" fill="#dfe1dc"/><g clip-path="url(#wc)"><circle cx="-1.4" cy="-0.3" r="23.85" fill="#f0f0e9"/><circle cx="-2.6" cy="-0.5" r="23.05" fill="#fefdf4"/></g><circle cx="-1" cy="0.4" r="15.3" fill="none" stroke="#f1eee1" stroke-width="1.5"/><circle cx="-10.5" cy="-7.5" r="1.8" fill="#ebebe6" opacity="0.75"/><circle r="24.35" fill="none" stroke="#6c6c66" stroke-width="1.45"/></g>
<g transform="translate(726.12,419.00)"><circle r="24.45" fill="#dfe1dc"/><g clip-path="url(#wc)"><circle cx="-1.4" cy="-0.3" r="23.85" fill="#f0f0e9"/><circle cx="-2.6" cy="-0.5" r="23.05" fill="#fefdf4"/></g><circle cx="-1" cy="0.4" r="15.3" fill="none" stroke="#f1eee1" stroke-width="1.5"/><circle cx="-10.5" cy="-7.5" r="1.8" fill="#ebebe6" opacity="0.75"/><circle r="24.35" fill="none" stroke="#6c6c66" stroke-width="1.45"/></g>
<g transform="translate(775.76,419.00)"><circle r="23.65" fill="#f6f6f6" stroke="#737373" stroke-width="2.5"/><circle r="16.8" fill="#fbfbfb"/><circle r="15.3" fill="#eeeeee"/></g>
<g transform="translate(825.40,419.00)"><circle r="23.65" fill="#f6f6f6" stroke="#737373" stroke-width="2.5"/><circle r="16.8" fill="#fbfbfb"/><circle r="15.3" fill="#eeeeee"/></g>
<g transform="translate(875.04,419.00)"><circle r="23.65" fill="#f6f6f6" stroke="#737373" stroke-width="2.5"/><circle r="16.8" fill="#fbfbfb"/><circle r="15.3" fill="#eeeeee"/></g>
<g transform="translate(329.00,468.50)"><circle r="24.45" fill="#e4b949"/><g clip-path="url(#wc)"><circle cx="-3.0" cy="-1.3" r="22.95" fill="#fdd660"/></g><circle r="23.05" fill="none" stroke="#feeab0" stroke-width="1.6" stroke-dasharray="46 200" stroke-dashoffset="-52"/><circle r="24.45" fill="none" stroke="#655f50" stroke-width="1.7"/><circle cx="-10.8" cy="-7.4" r="2.5" fill="#fff" opacity="0.95"/><circle cx="-4.1" cy="-10.6" r="1.45" fill="#fff" opacity="0.85"/></g>
<g transform="translate(378.64,468.50)"><circle r="24.45" fill="#e2b43a"/><g clip-path="url(#wc)"><circle cx="-3.0" cy="-1.3" r="22.95" fill="#fdd24e"/></g><circle r="23.05" fill="none" stroke="#fee8a6" stroke-width="1.6" stroke-dasharray="46 200" stroke-dashoffset="-52"/><circle r="24.45" fill="none" stroke="#655f50" stroke-width="1.7"/><circle cx="-10.8" cy="-7.4" r="2.5" fill="#fff" opacity="0.95"/><circle cx="-4.1" cy="-10.6" r="1.45" fill="#fff" opacity="0.85"/></g>
<g transform="translate(428.28,468.50)"><circle r="24.45" fill="#e9c56e"/><g clip-path="url(#wc)"><circle cx="-3.0" cy="-1.3" r="22.95" fill="#fee08a"/></g><circle r="23.05" fill="none" stroke="#fef0c4" stroke-width="1.6" stroke-dasharray="46 200" stroke-dashoffset="-52"/><circle r="24.45" fill="none" stroke="#655f50" stroke-width="1.7"/><circle cx="-10.8" cy="-7.4" r="2.5" fill="#fff" opacity="0.95"/><circle cx="-4.1" cy="-10.6" r="1.45" fill="#fff" opacity="0.85"/></g>
<g transform="translate(477.92,468.50)"><circle r="24.45" fill="#e9e2c8"/><g clip-path="url(#wc)"><circle cx="-1.4" cy="-0.3" r="23.85" fill="#f4ecd0"/><circle cx="-2.6" cy="-0.5" r="23.05" fill="#fdf5d6"/></g><circle cx="-1" cy="0.4" r="15.3" fill="none" stroke="#f1e8c6" stroke-width="1.5"/><circle cx="-10.5" cy="-7.5" r="1.8" fill="#ebebe6" opacity="0.75"/><circle r="24.35" fill="none" stroke="#6c6c66" stroke-width="1.45"/></g>
<g transform="translate(527.56,468.50)"><circle r="24.45" fill="#dfe1dc"/><g clip-path="url(#wc)"><circle cx="-1.4" cy="-0.3" r="23.85" fill="#f0f0e9"/><circle cx="-2.6" cy="-0.5" r="23.05" fill="#fefdf4"/></g><circle cx="-1" cy="0.4" r="15.3" fill="none" stroke="#f1eee1" stroke-width="1.5"/><circle cx="-10.5" cy="-7.5" r="1.8" fill="#ebebe6" opacity="0.75"/><circle r="24.35" fill="none" stroke="#6c6c66" stroke-width="1.45"/></g>
<g transform="translate(577.20,468.50)"><circle r="24.45" fill="#dfe1dc"/><g clip-path="url(#wc)"><circle cx="-1.4" cy="-0.3" r="23.85" fill="#f0f0e9"/><circle cx="-2.6" cy="-0.5" r="23.05" fill="#fefdf4"/></g><circle cx="-1" cy="0.4" r="15.3" fill="none" stroke="#f1eee1" stroke-width="1.5"/><circle cx="-10.5" cy="-7.5" r="1.8" fill="#ebebe6" opacity="0.75"/><circle r="24.35" fill="none" stroke="#6c6c66" stroke-width="1.45"/></g>
<g transform="translate(626.84,468.50)"><circle r="24.45" fill="#dfe1dc"/><g clip-path="url(#wc)"><circle cx="-1.4" cy="-0.3" r="23.85" fill="#f0f0e9"/><circle cx="-2.6" cy="-0.5" r="23.05" fill="#fefdf4"/></g><circle cx="-1" cy="0.4" r="15.3" fill="none" stroke="#f1eee1" stroke-width="1.5"/><circle cx="-10.5" cy="-7.5" r="1.8" fill="#ebebe6" opacity="0.75"/><circle r="24.35" fill="none" stroke="#6c6c66" stroke-width="1.45"/></g>
<g transform="translate(676.48,468.50)"><circle r="24.45" fill="#dfe1dc"/><g clip-path="url(#wc)"><circle cx="-1.4" cy="-0.3" r="23.85" fill="#f0f0e9"/><circle cx="-2.6" cy="-0.5" r="23.05" fill="#fefdf4"/></g><circle cx="-1" cy="0.4" r="15.3" fill="none" stroke="#f1eee1" stroke-width="1.5"/><circle cx="-10.5" cy="-7.5" r="1.8" fill="#ebebe6" opacity="0.75"/><circle r="24.35" fill="none" stroke="#6c6c66" stroke-width="1.45"/></g>
<g transform="translate(726.12,468.50)"><circle r="24.45" fill="#dfe1dc"/><g clip-path="url(#wc)"><circle cx="-1.4" cy="-0.3" r="23.85" fill="#f0f0e9"/><circle cx="-2.6" cy="-0.5" r="23.05" fill="#fefdf4"/></g><circle cx="-1" cy="0.4" r="15.3" fill="none" stroke="#f1eee1" stroke-width="1.5"/><circle cx="-10.5" cy="-7.5" r="1.8" fill="#ebebe6" opacity="0.75"/><circle r="24.35" fill="none" stroke="#6c6c66" stroke-width="1.45"/></g>
<g transform="translate(775.76,468.50)"><circle r="23.65" fill="#f6f6f6" stroke="#737373" stroke-width="2.5"/><circle r="16.8" fill="#fbfbfb"/><circle r="15.3" fill="#eeeeee"/></g>
<g transform="translate(825.40,468.50)"><circle r="23.65" fill="#f6f6f6" stroke="#737373" stroke-width="2.5"/><circle r="16.8" fill="#fbfbfb"/><circle r="15.3" fill="#eeeeee"/></g>
<g transform="translate(875.04,468.50)"><circle r="23.65" fill="#f6f6f6" stroke="#737373" stroke-width="2.5"/><circle r="16.8" fill="#fbfbfb"/><circle r="15.3" fill="#eeeeee"/></g>
<g filter="url(#sh)">
<line x1="329.70" y1="48.30" x2="329.70" y2="72.60" stroke="#000" stroke-width="3.2" stroke-linecap="butt"/>
<line x1="378.40" y1="48.30" x2="378.40" y2="72.60" stroke="#000" stroke-width="3.2" stroke-linecap="butt"/>
<line x1="426.90" y1="48.30" x2="426.90" y2="72.60" stroke="#000" stroke-width="3.2" stroke-linecap="butt"/>
<line x1="476.30" y1="48.30" x2="476.30" y2="72.60" stroke="#000" stroke-width="3.2" stroke-linecap="butt"/>
<line x1="526.50" y1="48.30" x2="526.50" y2="72.60" stroke="#000" stroke-width="3.2" stroke-linecap="butt"/>
<line x1="576.00" y1="48.30" x2="576.00" y2="72.60" stroke="#000" stroke-width="3.2" stroke-linecap="butt"/>
<line x1="625.80" y1="48.30" x2="625.80" y2="72.60" stroke="#000" stroke-width="3.2" stroke-linecap="butt"/>
<line x1="675.40" y1="48.30" x2="675.40" y2="72.60" stroke="#000" stroke-width="3.2" stroke-linecap="butt"/>
<line x1="724.50" y1="48.30" x2="724.50" y2="72.60" stroke="#000" stroke-width="3.2" stroke-linecap="butt"/>
<line x1="245.60" y1="122.50" x2="276.40" y2="122.50" stroke="#000" stroke-width="3.2" stroke-linecap="butt"/>
<line x1="243.80" y1="171.60" x2="274.60" y2="171.60" stroke="#000" stroke-width="3.2" stroke-linecap="butt"/>
<line x1="245.40" y1="221.40" x2="276.20" y2="221.40" stroke="#000" stroke-width="3.2" stroke-linecap="butt"/>
<line x1="245.00" y1="269.00" x2="275.80" y2="269.00" stroke="#000" stroke-width="3.2" stroke-linecap="butt"/>
<line x1="243.60" y1="318.40" x2="274.40" y2="318.40" stroke="#000" stroke-width="3.2" stroke-linecap="butt"/>
<line x1="244.60" y1="368.80" x2="275.40" y2="368.80" stroke="#000" stroke-width="3.2" stroke-linecap="butt"/>
<line x1="243.60" y1="416.70" x2="274.40" y2="416.70" stroke="#000" stroke-width="3.2" stroke-linecap="butt"/>
<line x1="244.00" y1="467.10" x2="274.80" y2="467.10" stroke="#000" stroke-width="3.2" stroke-linecap="butt"/>
</g>
<line x1="329.70" y1="48.30" x2="329.70" y2="72.60" stroke="#6d6d6d" stroke-width="3.0" stroke-linecap="butt"/>
<line x1="378.40" y1="48.30" x2="378.40" y2="72.60" stroke="#6d6d6d" stroke-width="3.0" stroke-linecap="butt"/>
<line x1="426.90" y1="48.30" x2="426.90" y2="72.60" stroke="#6d6d6d" stroke-width="3.0" stroke-linecap="butt"/>
<line x1="476.30" y1="48.30" x2="476.30" y2="72.60" stroke="#6d6d6d" stroke-width="3.0" stroke-linecap="butt"/>
<line x1="526.50" y1="48.30" x2="526.50" y2="72.60" stroke="#6d6d6d" stroke-width="3.0" stroke-linecap="butt"/>
<line x1="576.00" y1="48.30" x2="576.00" y2="72.60" stroke="#6d6d6d" stroke-width="3.0" stroke-linecap="butt"/>
<line x1="625.80" y1="48.30" x2="625.80" y2="72.60" stroke="#6d6d6d" stroke-width="3.0" stroke-linecap="butt"/>
<line x1="675.40" y1="48.30" x2="675.40" y2="72.60" stroke="#6d6d6d" stroke-width="3.0" stroke-linecap="butt"/>
<line x1="724.50" y1="48.30" x2="724.50" y2="72.60" stroke="#6d6d6d" stroke-width="3.0" stroke-linecap="butt"/>
<line x1="245.60" y1="122.50" x2="276.40" y2="122.50" stroke="#6d6d6d" stroke-width="3.0" stroke-linecap="butt"/>
<line x1="243.80" y1="171.60" x2="274.60" y2="171.60" stroke="#6d6d6d" stroke-width="3.0" stroke-linecap="butt"/>
<line x1="245.40" y1="221.40" x2="276.20" y2="221.40" stroke="#6d6d6d" stroke-width="3.0" stroke-linecap="butt"/>
<line x1="245.00" y1="269.00" x2="275.80" y2="269.00" stroke="#6d6d6d" stroke-width="3.0" stroke-linecap="butt"/>
<line x1="243.60" y1="318.40" x2="274.40" y2="318.40" stroke="#6d6d6d" stroke-width="3.0" stroke-linecap="butt"/>
<line x1="244.60" y1="368.80" x2="275.40" y2="368.80" stroke="#6d6d6d" stroke-width="3.0" stroke-linecap="butt"/>
<line x1="243.60" y1="416.70" x2="274.40" y2="416.70" stroke="#6d6d6d" stroke-width="3.0" stroke-linecap="butt"/>
<line x1="244.00" y1="467.10" x2="274.80" y2="467.10" stroke="#6d6d6d" stroke-width="3.0" stroke-linecap="butt"/>
<rect x="978.70" y="90.50" width="44.80" height="353.50" fill="url(#cb)" stroke="#000" stroke-width="3"/>
<line x1="978.70" y1="208.30" x2="986.50" y2="208.30" stroke="#000" stroke-width="3" stroke-linecap="butt"/>
<line x1="1015.70" y1="208.30" x2="1023.50" y2="208.30" stroke="#000" stroke-width="3" stroke-linecap="butt"/>
<line x1="978.70" y1="326.20" x2="986.50" y2="326.20" stroke="#000" stroke-width="3" stroke-linecap="butt"/>
<line x1="1015.70" y1="326.20" x2="1023.50" y2="326.20" stroke="#000" stroke-width="3" stroke-linecap="butt"/>
<text class="k" x="1039.45" y="99.60" font-size="29" letter-spacing="-0.450" fill="#000">1.5</text>
<text class="k" x="1039.45" y="217.60" font-size="29" letter-spacing="-0.450" fill="#000">1.0</text>
<text class="k" x="1038.90" y="335.60" font-size="29" letter-spacing="-0.175" fill="#000">0.5</text>
<text class="k" x="1038.90" y="453.30" font-size="29" fill="#000">0</text>
<text class="k" x="942.95" y="497.50" font-size="37" letter-spacing="-0.025" fill="#000">(OD</text>
<text class="k" x="1010.25" y="505.60" font-size="24" letter-spacing="0.750" fill="#000">600</text>
<text class="k" x="1052.75" y="497.50" font-size="37" fill="#000">)</text>
<text class="k" x="1174.85" y="36.10" font-size="40.8" font-weight="700" fill="#000">F</text>
<text class="k" x="1340.95" y="65.90" font-size="29" letter-spacing="0.887" fill="#000">KH130</text>
<text class="k" x="1559.35" y="65.70" font-size="29" letter-spacing="1.150" fill="#000">KH132</text>
<polyline points="1317.9,86.6 1317.9,77.4 1446.5,77.4 1446.5,86.6" fill="none" stroke="#000" stroke-width="2"/>
<polyline points="1555.4,86.9 1555.4,78.0 1650.3,78.0 1650.3,86.9" fill="none" stroke="#000" stroke-width="2"/>
<rect x="1294.10" y="97.90" width="48.00" height="13.10" fill="#ffe294" stroke="#a08a52" stroke-width="4"/>
<text class="k" x="1368.80" y="113.40" font-size="27" letter-spacing="0.283" fill="#000">0 mM</text>
<rect x="1294.10" y="129.00" width="48.00" height="13.50" fill="#ffdc76" stroke="#a58b45" stroke-width="4"/>
<text class="k" x="1368.80" y="144.60" font-size="27" letter-spacing="0.036" fill="#000">0.002 mM</text>
<rect x="1294.10" y="157.30" width="48.00" height="13.20" fill="#ffd040" stroke="#a7852a" stroke-width="4"/>
<text class="k" x="1368.80" y="173.00" font-size="27" letter-spacing="-0.025" fill="#000">0.01 mM</text>
<rect x="1294.10" y="188.50" width="48.00" height="13.20" fill="#f9c937" stroke="#b39335" stroke-width="4"/>
<text class="k" x="1368.80" y="204.20" font-size="27" letter-spacing="-0.025" fill="#000">0.05 mM</text>
<rect x="1294.10" y="216.50" width="48.00" height="13.20" fill="#e0b000" stroke="#8f6f10" stroke-width="4"/>
<text class="k" x="1368.80" y="232.60" font-size="27" letter-spacing="-0.025" fill="#000">0.25 mM</text>
<rect x="1533.20" y="97.90" width="48.10" height="13.10" fill="#fde2e5" stroke="#e27ea6" stroke-width="4"/>
<text class="k" x="1607.20" y="114.00" font-size="27" letter-spacing="0.850" fill="#000">0 mM</text>
<rect x="1533.20" y="129.00" width="48.10" height="13.50" fill="#f0a2ba" stroke="#c8819a" stroke-width="4"/>
<text class="k" x="1607.20" y="145.20" font-size="27" letter-spacing="0.258" fill="#000">0.25 mM</text>
<line x1="1306.40" y1="442.90" x2="1306.40" y2="446.20" stroke="#e27ea6" stroke-width="2.2" stroke-linecap="butt"/>
<line x1="1298.90" y1="442.90" x2="1313.90" y2="442.90" stroke="#e27ea6" stroke-width="2.2" stroke-linecap="butt"/>
<rect x="1295.10" y="447.20" width="22.60" height="14.90" fill="#fde2e5" stroke="#e27ea6" stroke-width="4"/>
<line x1="1334.70" y1="443.20" x2="1334.70" y2="447.40" stroke="#c8819a" stroke-width="2.2" stroke-linecap="butt"/>
<line x1="1327.20" y1="443.20" x2="1342.20" y2="443.20" stroke="#c8819a" stroke-width="2.2" stroke-linecap="butt"/>
<rect x="1323.40" y="448.40" width="22.60" height="13.70" fill="#f0a2ba" stroke="#c8819a" stroke-width="4"/>
<line x1="1363.00" y1="433.40" x2="1363.00" y2="438.50" stroke="#a08a52" stroke-width="2.2" stroke-linecap="butt"/>
<line x1="1355.50" y1="433.40" x2="1370.50" y2="433.40" stroke="#a08a52" stroke-width="2.2" stroke-linecap="butt"/>
<rect x="1351.70" y="439.50" width="22.60" height="22.60" fill="#ffe294" stroke="#a08a52" stroke-width="4"/>
<line x1="1391.30" y1="394.70" x2="1391.30" y2="409.20" stroke="#a58b45" stroke-width="2.2" stroke-linecap="butt"/>
<line x1="1383.80" y1="394.70" x2="1398.80" y2="394.70" stroke="#a58b45" stroke-width="2.2" stroke-linecap="butt"/>
<rect x="1380.00" y="410.20" width="22.60" height="51.90" fill="#ffdc76" stroke="#a58b45" stroke-width="4"/>
<line x1="1419.60" y1="340.00" x2="1419.60" y2="347.30" stroke="#a7852a" stroke-width="2.2" stroke-linecap="butt"/>
<line x1="1412.10" y1="340.00" x2="1427.10" y2="340.00" stroke="#a7852a" stroke-width="2.2" stroke-linecap="butt"/>
<rect x="1408.30" y="348.30" width="22.60" height="113.80" fill="#ffd040" stroke="#a7852a" stroke-width="4"/>
<line x1="1447.90" y1="269.40" x2="1447.90" y2="277.50" stroke="#b39335" stroke-width="2.2" stroke-linecap="butt"/>
<line x1="1440.40" y1="269.40" x2="1455.40" y2="269.40" stroke="#b39335" stroke-width="2.2" stroke-linecap="butt"/>
<rect x="1436.60" y="278.50" width="22.60" height="183.60" fill="#f9c937" stroke="#b39335" stroke-width="4"/>
<line x1="1476.20" y1="242.00" x2="1476.20" y2="254.20" stroke="#8f6f10" stroke-width="2.2" stroke-linecap="butt"/>
<line x1="1468.70" y1="242.00" x2="1483.70" y2="242.00" stroke="#8f6f10" stroke-width="2.2" stroke-linecap="butt"/>
<rect x="1464.90" y="255.20" width="22.60" height="206.90" fill="#e0b000" stroke="#8f6f10" stroke-width="4"/>
<line x1="1530.70" y1="445.00" x2="1530.70" y2="449.70" stroke="#e27ea6" stroke-width="2.2" stroke-linecap="butt"/>
<line x1="1523.20" y1="445.00" x2="1538.20" y2="445.00" stroke="#e27ea6" stroke-width="2.2" stroke-linecap="butt"/>
<rect x="1519.40" y="450.70" width="22.60" height="11.40" fill="#fde2e5" stroke="#e27ea6" stroke-width="4"/>
<line x1="1559.00" y1="444.70" x2="1559.00" y2="448.60" stroke="#c8819a" stroke-width="2.2" stroke-linecap="butt"/>
<line x1="1551.50" y1="444.70" x2="1566.50" y2="444.70" stroke="#c8819a" stroke-width="2.2" stroke-linecap="butt"/>
<rect x="1547.70" y="449.60" width="22.60" height="12.50" fill="#f0a2ba" stroke="#c8819a" stroke-width="4"/>
<line x1="1587.30" y1="427.70" x2="1587.30" y2="434.80" stroke="#a08a52" stroke-width="2.2" stroke-linecap="butt"/>
<line x1="1579.80" y1="427.70" x2="1594.80" y2="427.70" stroke="#a08a52" stroke-width="2.2" stroke-linecap="butt"/>
<rect x="1576.00" y="435.80" width="22.60" height="26.30" fill="#ffe294" stroke="#a08a52" stroke-width="4"/>
<line x1="1615.60" y1="335.50" x2="1615.60" y2="344.30" stroke="#a58b45" stroke-width="2.2" stroke-linecap="butt"/>
<line x1="1608.10" y1="335.50" x2="1623.10" y2="335.50" stroke="#a58b45" stroke-width="2.2" stroke-linecap="butt"/>
<rect x="1604.30" y="345.30" width="22.60" height="116.80" fill="#ffdc76" stroke="#a58b45" stroke-width="4"/>
<line x1="1643.90" y1="296.90" x2="1643.90" y2="310.80" stroke="#a7852a" stroke-width="2.2" stroke-linecap="butt"/>
<line x1="1636.40" y1="296.90" x2="1651.40" y2="296.90" stroke="#a7852a" stroke-width="2.2" stroke-linecap="butt"/>
<rect x="1632.60" y="311.80" width="22.60" height="150.30" fill="#ffd040" stroke="#a7852a" stroke-width="4"/>
<line x1="1672.20" y1="235.10" x2="1672.20" y2="243.10" stroke="#b39335" stroke-width="2.2" stroke-linecap="butt"/>
<line x1="1664.70" y1="235.10" x2="1679.70" y2="235.10" stroke="#b39335" stroke-width="2.2" stroke-linecap="butt"/>
<rect x="1660.90" y="244.10" width="22.60" height="218.00" fill="#f9c937" stroke="#b39335" stroke-width="4"/>
<line x1="1700.50" y1="208.60" x2="1700.50" y2="221.80" stroke="#8f6f10" stroke-width="2.2" stroke-linecap="butt"/>
<line x1="1693.00" y1="208.60" x2="1708.00" y2="208.60" stroke="#8f6f10" stroke-width="2.2" stroke-linecap="butt"/>
<rect x="1689.20" y="222.80" width="22.60" height="239.30" fill="#e0b000" stroke="#8f6f10" stroke-width="4"/>
<line x1="1279.70" y1="161.00" x2="1279.70" y2="464.40" stroke="#000" stroke-width="4.3" stroke-linecap="butt"/>
<line x1="1272.40" y1="462.10" x2="1727.20" y2="462.10" stroke="#000" stroke-width="4.5" stroke-linecap="butt"/>
<line x1="1272.40" y1="387.30" x2="1281.80" y2="387.30" stroke="#000" stroke-width="4.2" stroke-linecap="butt"/>
<line x1="1272.40" y1="312.50" x2="1281.80" y2="312.50" stroke="#000" stroke-width="4.2" stroke-linecap="butt"/>
<line x1="1272.40" y1="237.70" x2="1281.80" y2="237.70" stroke="#000" stroke-width="4.2" stroke-linecap="butt"/>
<line x1="1272.40" y1="162.90" x2="1281.80" y2="162.90" stroke="#000" stroke-width="4.2" stroke-linecap="butt"/>
<line x1="1391.20" y1="462.10" x2="1391.20" y2="469.80" stroke="#000" stroke-width="4.2" stroke-linecap="butt"/>
<line x1="1615.60" y1="462.10" x2="1615.60" y2="469.80" stroke="#000" stroke-width="4.2" stroke-linecap="butt"/>
<text class="k" x="1201.45" y="175.20" font-size="36" letter-spacing="1.600" fill="#000">200</text>
<text class="k" x="1203.35" y="249.80" font-size="36" letter-spacing="0.800" fill="#000">150</text>
<text class="k" x="1203.35" y="324.60" font-size="36" letter-spacing="0.800" fill="#000">100</text>
<text class="k" x="1222.50" y="399.50" font-size="36" letter-spacing="1.600" fill="#000">50</text>
<text class="k" x="1244.10" y="473.90" font-size="36" fill="#000">0</text>
<text class="k" x="1380.25" y="510.80" font-size="36" fill="#000">6</text>
<text class="k" x="1593.85" y="510.80" font-size="36" letter-spacing="1.600" fill="#000">20</text>
<text class="k" x="1437.95" y="547.40" font-size="36" fill="#000">Time (h)</text>
<text class="k" transform="translate(1181.20,354.40) rotate(-90)" font-size="36" letter-spacing="0.300" fill="#000">Miller</text>
<text class="k" x="140.35" y="614.00" font-size="41.5" font-weight="700" fill="#000">B</text>
<text class="k" transform="translate(33.80,1026.10) rotate(-90)" font-size="36.3" letter-spacing="-0.264" fill="#000">Electroporation efficiency</text>
<text class="k" transform="translate(78.80,1037.25) rotate(-90)" font-size="36.3" letter-spacing="0.035" fill="#000">(CFU/µg DNA, thousands)</text>
<line x1="247.10" y1="951.60" x2="247.10" y2="968.00" stroke="#c47d92" stroke-width="2" stroke-linecap="butt"/>
<line x1="222.20" y1="951.60" x2="271.50" y2="951.60" stroke="#c47d92" stroke-width="2" stroke-linecap="butt"/>
<polyline points="202.7,987.4 202.7,970.0 292.2,970.0 292.2,987.4" fill="#fde1e4" stroke="#c47d92" stroke-width="6" stroke-linejoin="miter"/>
<line x1="390.50" y1="892.30" x2="390.50" y2="906.00" stroke="#9bb3c4" stroke-width="2" stroke-linecap="butt"/>
<line x1="366.10" y1="892.30" x2="414.70" y2="892.30" stroke="#9bb3c4" stroke-width="2" stroke-linecap="butt"/>
<polyline points="345.6,987.4 345.6,908.4 435.4,908.4 435.4,987.4" fill="#c6def3" stroke="#9cb4c5" stroke-width="6" stroke-linejoin="miter"/>
<line x1="151.60" y1="650.00" x2="151.60" y2="989.60" stroke="#000" stroke-width="4.4" stroke-linecap="butt"/>
<line x1="143.70" y1="987.40" x2="486.50" y2="987.40" stroke="#000" stroke-width="4.5" stroke-linecap="butt"/>
<line x1="143.70" y1="652.20" x2="153.80" y2="652.20" stroke="#000" stroke-width="4.2" stroke-linecap="butt"/>
<line x1="143.70" y1="736.00" x2="153.80" y2="736.00" stroke="#000" stroke-width="4.2" stroke-linecap="butt"/>
<line x1="143.70" y1="819.80" x2="153.80" y2="819.80" stroke="#000" stroke-width="4.2" stroke-linecap="butt"/>
<line x1="143.70" y1="903.60" x2="153.80" y2="903.60" stroke="#000" stroke-width="4.2" stroke-linecap="butt"/>
<line x1="246.60" y1="987.40" x2="246.60" y2="995.20" stroke="#000" stroke-width="4.2" stroke-linecap="butt"/>
<line x1="390.50" y1="987.40" x2="390.50" y2="995.20" stroke="#000" stroke-width="4.2" stroke-linecap="butt"/>
<text class="k" x="96.45" y="664.80" font-size="37" fill="#000">20</text>
<text class="k" x="96.70" y="748.60" font-size="37" fill="#000">15</text>
<text class="k" x="96.45" y="832.40" font-size="37" fill="#000">10</text>
<text class="k" x="117.20" y="916.20" font-size="37" fill="#000">5</text>
<text class="k" x="116.95" y="1000.00" font-size="37" fill="#000">0</text>
<text class="k" x="214.45" y="1036.30" font-size="36.5" letter-spacing="0.675" fill="#000">4°C</text>
<text class="k" x="365.00" y="1036.30" font-size="36.5" letter-spacing="1.600" fill="#000">RT</text>
<text class="k" x="218.25" y="1076.60" font-size="36.3" letter-spacing="-0.158" fill="#000">Temperature</text>
<text class="k" x="540.25" y="613.40" font-size="42" font-weight="700" fill="#000">C</text>
<line x1="556.40" y1="648.10" x2="556.40" y2="984.50" stroke="#000" stroke-width="4.8" stroke-linecap="butt"/>
<line x1="548.50" y1="982.30" x2="750.50" y2="982.30" stroke="#000" stroke-width="4.4" stroke-linecap="butt"/>
<line x1="787.90" y1="982.30" x2="889.70" y2="982.30" stroke="#000" stroke-width="4.4" stroke-linecap="butt"/>
<line x1="548.50" y1="650.20" x2="558.80" y2="650.20" stroke="#000" stroke-width="4.2" stroke-linecap="butt"/>
<line x1="548.50" y1="733.20" x2="558.80" y2="733.20" stroke="#000" stroke-width="4.2" stroke-linecap="butt"/>
<line x1="548.50" y1="816.20" x2="558.80" y2="816.20" stroke="#000" stroke-width="4.2" stroke-linecap="butt"/>
<line x1="548.50" y1="899.20" x2="558.80" y2="899.20" stroke="#000" stroke-width="4.2" stroke-linecap="butt"/>
<line x1="583.80" y1="982.30" x2="583.80" y2="987.60" stroke="#000" stroke-width="4.0" stroke-linecap="butt"/>
<line x1="611.60" y1="982.30" x2="611.60" y2="987.60" stroke="#000" stroke-width="4.0" stroke-linecap="butt"/>
<line x1="667.00" y1="982.30" x2="667.00" y2="987.60" stroke="#000" stroke-width="4.0" stroke-linecap="butt"/>
<line x1="694.70" y1="982.30" x2="694.70" y2="987.60" stroke="#000" stroke-width="4.0" stroke-linecap="butt"/>
<line x1="639.20" y1="982.30" x2="639.20" y2="990.40" stroke="#000" stroke-width="4.0" stroke-linecap="butt"/>
<line x1="722.20" y1="982.30" x2="722.20" y2="990.40" stroke="#000" stroke-width="4.0" stroke-linecap="butt"/>
<line x1="797.40" y1="982.30" x2="797.40" y2="990.40" stroke="#000" stroke-width="4.0" stroke-linecap="butt"/>
<line x1="827.90" y1="982.30" x2="827.90" y2="990.40" stroke="#000" stroke-width="4.0" stroke-linecap="butt"/>
<line x1="857.50" y1="982.30" x2="857.50" y2="990.40" stroke="#000" stroke-width="4.0" stroke-linecap="butt"/>
<line x1="887.50" y1="982.30" x2="887.50" y2="990.40" stroke="#000" stroke-width="4.0" stroke-linecap="butt"/>
<line x1="737.40" y1="995.30" x2="763.00" y2="969.70" stroke="#000" stroke-width="4.2" stroke-linecap="butt"/>
<line x1="770.30" y1="995.30" x2="796.00" y2="969.70" stroke="#000" stroke-width="4.2" stroke-linecap="butt"/>
<text class="k" x="501.15" y="662.40" font-size="36.5" fill="#000">20</text>
<text class="k" x="501.40" y="745.40" font-size="36.5" fill="#000">15</text>
<text class="k" x="501.15" y="828.40" font-size="36.5" fill="#000">10</text>
<text class="k" x="521.65" y="911.40" font-size="36.5" fill="#000">5</text>
<text class="k" x="521.40" y="994.40" font-size="36.5" fill="#000">0</text>
<text class="k" x="530.00" y="1030.60" font-size="36.5" letter-spacing="-0.450" fill="#000">0.0</text>
<text class="k" x="613.70" y="1030.60" font-size="36.5" letter-spacing="0.025" fill="#000">0.3</text>
<text class="k" x="696.30" y="1030.60" font-size="36.5" letter-spacing="-0.125" fill="#000">0.6</text>
<text class="k" x="787.25" y="1030.60" font-size="36.5" fill="#000">2</text>
<text class="k" x="818.30" y="1030.60" font-size="36.5" fill="#000">3</text>
<text class="k" x="847.15" y="1030.60" font-size="36.5" fill="#000">4</text>
<text class="k" x="877.00" y="1030.60" font-size="36.5" fill="#000">5</text>
<text class="k" x="517.20" y="1077.10" font-size="36" letter-spacing="-0.165" fill="#000">DNA concentration (µg/ml)</text>
<line x1="562.00" y1="734.70" x2="562.00" y2="770.00" stroke="#e27fa6" stroke-width="1.9" stroke-linecap="butt"/>
<line x1="556.70" y1="734.70" x2="567.30" y2="734.70" stroke="#e27fa6" stroke-width="1.9" stroke-linecap="butt"/>
<line x1="556.70" y1="770.00" x2="567.30" y2="770.00" stroke="#e27fa6" stroke-width="1.9" stroke-linecap="butt"/>
<line x1="612.20" y1="847.20" x2="612.20" y2="884.70" stroke="#e27fa6" stroke-width="1.9" stroke-linecap="butt"/>
<line x1="606.90" y1="847.20" x2="617.50" y2="847.20" stroke="#e27fa6" stroke-width="1.9" stroke-linecap="butt"/>
<line x1="606.90" y1="884.70" x2="617.50" y2="884.70" stroke="#e27fa6" stroke-width="1.9" stroke-linecap="butt"/>
<line x1="694.70" y1="843.50" x2="694.70" y2="888.00" stroke="#e27fa6" stroke-width="1.9" stroke-linecap="butt"/>
<line x1="689.40" y1="843.50" x2="700.00" y2="843.50" stroke="#e27fa6" stroke-width="1.9" stroke-linecap="butt"/>
<line x1="689.40" y1="888.00" x2="700.00" y2="888.00" stroke="#e27fa6" stroke-width="1.9" stroke-linecap="butt"/>
<polyline points="556.20,982.30 562.00,753.00 612.20,865.50 694.70,865.50 751.30,871.80" fill="none" stroke="#e27fa6" stroke-width="4.3" stroke-linejoin="round"/>
<polyline points="781.30,874.90 797.90,876.20 887.60,901.10" fill="none" stroke="#e27fa6" stroke-width="4.3" stroke-linejoin="round"/>
<circle cx="556.20" cy="982.30" r="8.7" fill="#fbdfe5" stroke="#e27fa6" stroke-width="3.7"/>
<circle cx="562.00" cy="753.00" r="8.7" fill="#fbdfe5" stroke="#e27fa6" stroke-width="3.7"/>
<circle cx="612.20" cy="865.50" r="8.7" fill="#fbdfe5" stroke="#e27fa6" stroke-width="3.7"/>
<circle cx="694.70" cy="865.50" r="8.7" fill="#fbdfe5" stroke="#e27fa6" stroke-width="3.7"/>
<circle cx="797.90" cy="876.20" r="8.7" fill="#fbdfe5" stroke="#e27fa6" stroke-width="3.7"/>
<circle cx="887.60" cy="901.10" r="8.7" fill="#fbdfe5" stroke="#e27fa6" stroke-width="3.7"/>
<text class="k" x="967.35" y="617.00" font-size="41.5" font-weight="700" fill="#000">D</text>
<line x1="981.00" y1="650.30" x2="981.00" y2="989.60" stroke="#000" stroke-width="4.8" stroke-linecap="butt"/>
<line x1="961.50" y1="987.20" x2="1317.50" y2="987.20" stroke="#000" stroke-width="4.6" stroke-linecap="butt"/>
<line x1="961.50" y1="652.70" x2="983.40" y2="652.70" stroke="#000" stroke-width="4.4" stroke-linecap="butt"/>
<line x1="961.50" y1="736.32" x2="983.40" y2="736.32" stroke="#000" stroke-width="4.4" stroke-linecap="butt"/>
<line x1="961.50" y1="819.94" x2="983.40" y2="819.94" stroke="#000" stroke-width="4.4" stroke-linecap="butt"/>
<line x1="961.50" y1="903.56" x2="983.40" y2="903.56" stroke="#000" stroke-width="4.4" stroke-linecap="butt"/>
<line x1="981.00" y1="987.20" x2="981.00" y2="994.80" stroke="#000" stroke-width="4.6" stroke-linecap="butt"/>
<line x1="1064.50" y1="987.20" x2="1064.50" y2="994.80" stroke="#000" stroke-width="4.6" stroke-linecap="butt"/>
<line x1="1148.00" y1="987.20" x2="1148.00" y2="994.80" stroke="#000" stroke-width="4.6" stroke-linecap="butt"/>
<line x1="1231.50" y1="987.20" x2="1231.50" y2="994.80" stroke="#000" stroke-width="4.6" stroke-linecap="butt"/>
<line x1="1315.10" y1="987.20" x2="1315.10" y2="994.80" stroke="#000" stroke-width="4.6" stroke-linecap="butt"/>
<text class="k" x="908.60" y="666.50" font-size="41" fill="#000">20</text>
<text class="k" x="908.85" y="750.12" font-size="41" fill="#000">15</text>
<text class="k" x="908.60" y="833.74" font-size="41" fill="#000">10</text>
<text class="k" x="931.60" y="917.36" font-size="41" fill="#000">5</text>
<text class="k" x="931.35" y="1000.98" font-size="41" fill="#000">0</text>
<text class="k" x="952.00" y="1039.40" font-size="40.5" letter-spacing="0.125" fill="#000">0.0</text>
<text class="k" x="1036.00" y="1039.40" font-size="40.5" fill="#000">0.5</text>
<text class="k" x="1123.90" y="1039.40" font-size="40.5" letter-spacing="-1.600" fill="#000">1.0</text>
<text class="k" x="1207.00" y="1039.40" font-size="40.5" letter-spacing="-1.600" fill="#000">1.5</text>
<text class="k" x="1285.90" y="1039.40" font-size="40.5" letter-spacing="0.625" fill="#000">2.0</text>
<text class="k" x="964.50" y="1077.50" font-size="36" letter-spacing="0.014" fill="#000">Pre-incubation time (h)</text>
<line x1="981.00" y1="795.10" x2="981.00" y2="833.50" stroke="#e27fa6" stroke-width="1.9" stroke-linecap="butt"/>
<line x1="975.70" y1="795.10" x2="986.30" y2="795.10" stroke="#e27fa6" stroke-width="1.9" stroke-linecap="butt"/>
<line x1="975.70" y1="833.50" x2="986.30" y2="833.50" stroke="#e27fa6" stroke-width="1.9" stroke-linecap="butt"/>
<line x1="1022.30" y1="834.90" x2="1022.30" y2="860.30" stroke="#e27fa6" stroke-width="1.9" stroke-linecap="butt"/>
<line x1="1017.00" y1="834.90" x2="1027.60" y2="834.90" stroke="#e27fa6" stroke-width="1.9" stroke-linecap="butt"/>
<line x1="1017.00" y1="860.30" x2="1027.60" y2="860.30" stroke="#e27fa6" stroke-width="1.9" stroke-linecap="butt"/>
<line x1="1064.50" y1="844.50" x2="1064.50" y2="878.90" stroke="#e27fa6" stroke-width="1.9" stroke-linecap="butt"/>
<line x1="1059.20" y1="844.50" x2="1069.80" y2="844.50" stroke="#e27fa6" stroke-width="1.9" stroke-linecap="butt"/>
<line x1="1059.20" y1="878.90" x2="1069.80" y2="878.90" stroke="#e27fa6" stroke-width="1.9" stroke-linecap="butt"/>
<line x1="1315.40" y1="905.80" x2="1315.40" y2="934.00" stroke="#e27fa6" stroke-width="1.9" stroke-linecap="butt"/>
<line x1="1310.10" y1="905.80" x2="1320.70" y2="905.80" stroke="#e27fa6" stroke-width="1.9" stroke-linecap="butt"/>
<line x1="1310.10" y1="934.00" x2="1320.70" y2="934.00" stroke="#e27fa6" stroke-width="1.9" stroke-linecap="butt"/>
<polyline points="981.00,814.10 1022.30,847.70 1064.50,862.00 1147.50,903.50 1231.00,903.50 1315.40,919.50" fill="none" stroke="#e27fa6" stroke-width="4.3" stroke-linejoin="round"/>
<circle cx="981.00" cy="814.10" r="8.7" fill="#fbdfe5" stroke="#e27fa6" stroke-width="3.7"/>
<circle cx="1022.30" cy="847.70" r="8.7" fill="#fbdfe5" stroke="#e27fa6" stroke-width="3.7"/>
<circle cx="1064.50" cy="862.00" r="8.7" fill="#fbdfe5" stroke="#e27fa6" stroke-width="3.7"/>
<circle cx="1147.50" cy="903.50" r="8.7" fill="#fbdfe5" stroke="#e27fa6" stroke-width="3.7"/>
<circle cx="1231.00" cy="903.50" r="8.7" fill="#fbdfe5" stroke="#e27fa6" stroke-width="3.7"/>
<circle cx="1315.40" cy="919.50" r="8.7" fill="#fbdfe5" stroke="#e27fa6" stroke-width="3.7"/>
<text class="k" x="1399.75" y="617.00" font-size="41.5" font-weight="700" fill="#000">E</text>
<line x1="1410.40" y1="649.20" x2="1410.40" y2="987.00" stroke="#000" stroke-width="5.0" stroke-linecap="butt"/>
<line x1="1402.40" y1="984.50" x2="1747.20" y2="984.50" stroke="#000" stroke-width="4.8" stroke-linecap="butt"/>
<line x1="1402.40" y1="651.50" x2="1412.90" y2="651.50" stroke="#000" stroke-width="4.4" stroke-linecap="butt"/>
<line x1="1402.40" y1="734.75" x2="1412.90" y2="734.75" stroke="#000" stroke-width="4.4" stroke-linecap="butt"/>
<line x1="1402.40" y1="818.00" x2="1412.90" y2="818.00" stroke="#000" stroke-width="4.4" stroke-linecap="butt"/>
<line x1="1402.40" y1="901.25" x2="1412.90" y2="901.25" stroke="#000" stroke-width="4.4" stroke-linecap="butt"/>
<line x1="1409.80" y1="984.50" x2="1409.80" y2="993.60" stroke="#000" stroke-width="4.4" stroke-linecap="butt"/>
<line x1="1437.72" y1="984.50" x2="1437.72" y2="990.60" stroke="#000" stroke-width="4.4" stroke-linecap="butt"/>
<line x1="1465.64" y1="984.50" x2="1465.64" y2="993.60" stroke="#000" stroke-width="4.4" stroke-linecap="butt"/>
<line x1="1493.56" y1="984.50" x2="1493.56" y2="990.60" stroke="#000" stroke-width="4.4" stroke-linecap="butt"/>
<line x1="1521.48" y1="984.50" x2="1521.48" y2="993.60" stroke="#000" stroke-width="4.4" stroke-linecap="butt"/>
<line x1="1549.40" y1="984.50" x2="1549.40" y2="990.60" stroke="#000" stroke-width="4.4" stroke-linecap="butt"/>
<line x1="1577.32" y1="984.50" x2="1577.32" y2="993.60" stroke="#000" stroke-width="4.4" stroke-linecap="butt"/>
<line x1="1605.24" y1="984.50" x2="1605.24" y2="990.60" stroke="#000" stroke-width="4.4" stroke-linecap="butt"/>
<line x1="1633.16" y1="984.50" x2="1633.16" y2="993.60" stroke="#000" stroke-width="4.4" stroke-linecap="butt"/>
<line x1="1661.08" y1="984.50" x2="1661.08" y2="990.60" stroke="#000" stroke-width="4.4" stroke-linecap="butt"/>
<line x1="1689.00" y1="984.50" x2="1689.00" y2="993.60" stroke="#000" stroke-width="4.4" stroke-linecap="butt"/>
<line x1="1716.92" y1="984.50" x2="1716.92" y2="990.60" stroke="#000" stroke-width="4.4" stroke-linecap="butt"/>
<line x1="1744.84" y1="984.50" x2="1744.84" y2="993.60" stroke="#000" stroke-width="4.4" stroke-linecap="butt"/>
<text class="k" x="1351.50" y="665.10" font-size="40" fill="#000">20</text>
<text class="k" x="1351.75" y="748.35" font-size="40" fill="#000">15</text>
<text class="k" x="1351.50" y="831.60" font-size="40" fill="#000">10</text>
<text class="k" x="1374.00" y="914.85" font-size="40" fill="#000">5</text>
<text class="k" x="1373.75" y="998.10" font-size="40" fill="#000">0</text>
<text class="k" x="1398.30" y="1037.10" font-size="39.5" fill="#000">0</text>
<text class="k" x="1453.70" y="1037.10" font-size="39.5" fill="#000">4</text>
<text class="k" x="1509.85" y="1037.10" font-size="39.5" fill="#000">8</text>
<text class="k" x="1557.70" y="1037.10" font-size="39.5" letter-spacing="-1.600" fill="#000">12</text>
<text class="k" x="1613.90" y="1037.10" font-size="39.5" letter-spacing="-1.600" fill="#000">16</text>
<text class="k" x="1666.00" y="1037.10" font-size="39.5" letter-spacing="-1.600" fill="#000">20</text>
<text class="k" x="1722.10" y="1037.10" font-size="39.5" letter-spacing="-0.850" fill="#000">24</text>
<text class="k" x="1435.50" y="1077.00" font-size="36" letter-spacing="0.116" fill="#000">Recovery time (h)</text>
<line x1="1410.00" y1="804.00" x2="1410.00" y2="855.70" stroke="#e27fa6" stroke-width="1.9" stroke-linecap="butt"/>
<line x1="1404.70" y1="804.00" x2="1415.30" y2="804.00" stroke="#e27fa6" stroke-width="1.9" stroke-linecap="butt"/>
<line x1="1404.70" y1="855.70" x2="1415.30" y2="855.70" stroke="#e27fa6" stroke-width="1.9" stroke-linecap="butt"/>
<line x1="1423.80" y1="696.20" x2="1423.80" y2="755.80" stroke="#e27fa6" stroke-width="1.9" stroke-linecap="butt"/>
<line x1="1418.50" y1="696.20" x2="1429.10" y2="696.20" stroke="#e27fa6" stroke-width="1.9" stroke-linecap="butt"/>
<line x1="1418.50" y1="755.80" x2="1429.10" y2="755.80" stroke="#e27fa6" stroke-width="1.9" stroke-linecap="butt"/>
<line x1="1438.60" y1="753.50" x2="1438.60" y2="788.60" stroke="#e27fa6" stroke-width="1.9" stroke-linecap="butt"/>
<line x1="1433.30" y1="753.50" x2="1443.90" y2="753.50" stroke="#e27fa6" stroke-width="1.9" stroke-linecap="butt"/>
<line x1="1433.30" y1="788.60" x2="1443.90" y2="788.60" stroke="#e27fa6" stroke-width="1.9" stroke-linecap="butt"/>
<line x1="1465.80" y1="768.50" x2="1465.80" y2="806.40" stroke="#e27fa6" stroke-width="1.9" stroke-linecap="butt"/>
<line x1="1460.50" y1="768.50" x2="1471.10" y2="768.50" stroke="#e27fa6" stroke-width="1.9" stroke-linecap="butt"/>
<line x1="1460.50" y1="806.40" x2="1471.10" y2="806.40" stroke="#e27fa6" stroke-width="1.9" stroke-linecap="butt"/>
<line x1="1521.60" y1="746.40" x2="1521.60" y2="794.70" stroke="#e27fa6" stroke-width="1.9" stroke-linecap="butt"/>
<line x1="1516.30" y1="746.40" x2="1526.90" y2="746.40" stroke="#e27fa6" stroke-width="1.9" stroke-linecap="butt"/>
<line x1="1516.30" y1="794.70" x2="1526.90" y2="794.70" stroke="#e27fa6" stroke-width="1.9" stroke-linecap="butt"/>
<line x1="1577.40" y1="739.40" x2="1577.40" y2="795.70" stroke="#e27fa6" stroke-width="1.9" stroke-linecap="butt"/>
<line x1="1572.10" y1="739.40" x2="1582.70" y2="739.40" stroke="#e27fa6" stroke-width="1.9" stroke-linecap="butt"/>
<line x1="1572.10" y1="795.70" x2="1582.70" y2="795.70" stroke="#e27fa6" stroke-width="1.9" stroke-linecap="butt"/>
<line x1="1744.80" y1="736.10" x2="1744.80" y2="776.90" stroke="#e27fa6" stroke-width="1.9" stroke-linecap="butt"/>
<line x1="1739.50" y1="736.10" x2="1750.10" y2="736.10" stroke="#e27fa6" stroke-width="1.9" stroke-linecap="butt"/>
<line x1="1739.50" y1="776.90" x2="1750.10" y2="776.90" stroke="#e27fa6" stroke-width="1.9" stroke-linecap="butt"/>
<polyline points="1410.00,829.90 1423.80,726.30 1438.60,770.80 1465.80,787.20 1521.60,771.30 1577.40,768.50 1744.80,757.20" fill="none" stroke="#e27fa6" stroke-width="4.3" stroke-linejoin="round"/>
<circle cx="1410.00" cy="829.90" r="8.7" fill="#fbdfe5" stroke="#e27fa6" stroke-width="3.7"/>
<circle cx="1423.80" cy="726.30" r="8.7" fill="#fbdfe5" stroke="#e27fa6" stroke-width="3.7"/>
<circle cx="1438.60" cy="770.80" r="8.7" fill="#fbdfe5" stroke="#e27fa6" stroke-width="3.7"/>
<circle cx="1465.80" cy="787.20" r="8.7" fill="#fbdfe5" stroke="#e27fa6" stroke-width="3.7"/>
<circle cx="1521.60" cy="771.30" r="8.7" fill="#fbdfe5" stroke="#e27fa6" stroke-width="3.7"/>
<circle cx="1577.40" cy="768.50" r="8.7" fill="#fbdfe5" stroke="#e27fa6" stroke-width="3.7"/>
<circle cx="1744.80" cy="757.20" r="8.7" fill="#fbdfe5" stroke="#e27fa6" stroke-width="3.7"/>
</svg>
</body></html>
